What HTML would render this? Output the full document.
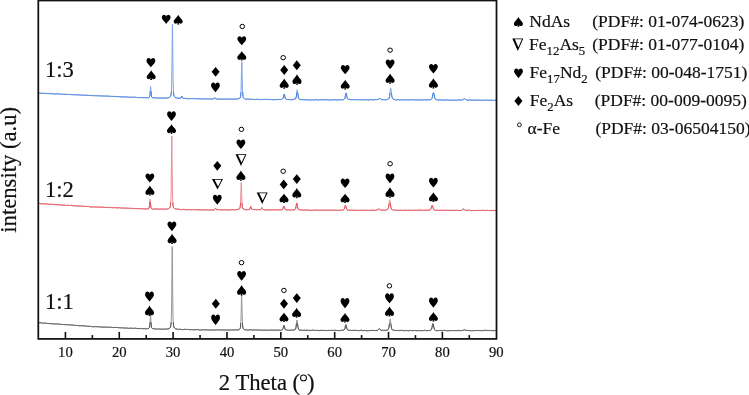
<!DOCTYPE html>
<html><head><meta charset="utf-8"><style>
html,body{margin:0;padding:0;background:#fff;}
svg{display:block;will-change:transform;}
text{font-family:"Liberation Serif",serif;fill:#111;stroke:#111;stroke-width:0.2px;}
</style></head><body>
<svg width="749" height="395" viewBox="0 0 749 395">
<rect width="749" height="395" fill="#fff"/>
<defs><clipPath id="cb0"><polygon points="36.0,86.1 40.0,86.2 44.0,86.4 48.0,86.6 52.0,86.7 56.0,86.9 60.0,87.1 64.0,87.3 68.0,87.5 72.0,87.6 76.0,87.8 80.0,88.0 84.0,88.2 88.0,88.4 92.0,88.6 96.0,88.7 100.0,88.9 104.0,89.1 108.0,89.2 112.0,89.4 116.0,89.6 120.0,89.7 124.0,89.9 128.0,90.1 132.0,90.2 136.0,90.4 140.0,90.6 144.0,90.7 148.0,90.9 152.0,91.0 156.0,91.0 160.0,91.1 164.0,91.2 168.0,91.3 172.0,91.3 176.0,91.4 180.0,91.5 184.0,91.6 188.0,91.6 192.0,91.7 196.0,91.8 200.0,91.8 204.0,91.9 208.0,91.9 212.0,92.0 216.0,92.0 220.0,92.1 224.0,92.1 228.0,92.1 232.0,92.2 236.0,92.2 240.0,92.2 244.0,92.3 248.0,92.3 252.0,92.3 256.0,92.4 260.0,92.4 264.0,92.5 268.0,92.5 272.0,92.5 276.0,92.6 280.0,92.6 284.0,92.6 288.0,92.7 292.0,92.7 296.0,92.7 300.0,92.8 304.0,92.8 308.0,92.9 312.0,92.9 316.0,92.9 320.0,92.9 324.0,92.9 328.0,92.9 332.0,92.9 336.0,92.9 340.0,92.9 344.0,92.8 348.0,92.8 352.0,92.8 356.0,92.8 360.0,92.8 364.0,92.8 368.0,92.8 372.0,92.8 376.0,92.8 380.0,92.8 384.0,92.8 388.0,92.9 392.0,92.9 396.0,92.9 400.0,92.9 404.0,92.9 408.0,92.9 412.0,92.9 416.0,92.9 420.0,93.0 424.0,93.0 428.0,93.0 432.0,93.0 436.0,93.0 440.0,93.0 444.0,93.1 448.0,93.1 452.0,93.1 456.0,93.1 460.0,93.1 464.0,93.1 468.0,93.2 472.0,93.2 476.0,93.2 480.0,93.2 484.0,93.2 488.0,93.3 492.0,93.3 496.0,93.3 496.0,103.3 492.0,103.3 488.0,103.3 484.0,103.2 480.0,103.2 476.0,103.2 472.0,103.2 468.0,103.2 464.0,103.1 460.0,103.1 456.0,103.1 452.0,103.1 448.0,103.1 444.0,103.1 440.0,103.0 436.0,103.0 432.0,103.0 428.0,103.0 424.0,103.0 420.0,103.0 416.0,102.9 412.0,102.9 408.0,102.9 404.0,102.9 400.0,102.9 396.0,102.9 392.0,102.9 388.0,102.9 384.0,102.8 380.0,102.8 376.0,102.8 372.0,102.8 368.0,102.8 364.0,102.8 360.0,102.8 356.0,102.8 352.0,102.8 348.0,102.8 344.0,102.8 340.0,102.9 336.0,102.9 332.0,102.9 328.0,102.9 324.0,102.9 320.0,102.9 316.0,102.9 312.0,102.9 308.0,102.9 304.0,102.8 300.0,102.8 296.0,102.7 292.0,102.7 288.0,102.7 284.0,102.6 280.0,102.6 276.0,102.6 272.0,102.5 268.0,102.5 264.0,102.5 260.0,102.4 256.0,102.4 252.0,102.3 248.0,102.3 244.0,102.3 240.0,102.2 236.0,102.2 232.0,102.2 228.0,102.1 224.0,102.1 220.0,102.1 216.0,102.0 212.0,102.0 208.0,101.9 204.0,101.9 200.0,101.8 196.0,101.8 192.0,101.7 188.0,101.6 184.0,101.6 180.0,101.5 176.0,101.4 172.0,101.3 168.0,101.3 164.0,101.2 160.0,101.1 156.0,101.0 152.0,101.0 148.0,100.9 144.0,100.7 140.0,100.6 136.0,100.4 132.0,100.2 128.0,100.1 124.0,99.9 120.0,99.7 116.0,99.6 112.0,99.4 108.0,99.2 104.0,99.1 100.0,98.9 96.0,98.7 92.0,98.6 88.0,98.4 84.0,98.2 80.0,98.0 76.0,97.8 72.0,97.6 68.0,97.5 64.0,97.3 60.0,97.1 56.0,96.9 52.0,96.7 48.0,96.6 44.0,96.4 40.0,96.2 36.0,96.1"/></clipPath><clipPath id="cb1"><polygon points="36.0,196.5 40.0,196.6 44.0,196.9 48.0,197.1 52.0,197.4 56.0,197.6 60.0,197.9 64.0,198.1 68.0,198.4 72.0,198.6 76.0,198.8 80.0,199.1 84.0,199.3 88.0,199.6 92.0,199.8 96.0,200.0 100.0,200.2 104.0,200.3 108.0,200.5 112.0,200.6 116.0,200.8 120.0,200.9 124.0,201.1 128.0,201.2 132.0,201.4 136.0,201.5 140.0,201.7 144.0,201.8 148.0,202.0 152.0,202.1 156.0,202.1 160.0,202.2 164.0,202.3 168.0,202.3 172.0,202.4 176.0,202.5 180.0,202.5 184.0,202.6 188.0,202.7 192.0,202.7 196.0,202.8 200.0,202.9 204.0,202.9 208.0,202.9 212.0,202.9 216.0,202.9 220.0,202.9 224.0,202.9 228.0,202.9 232.0,202.8 236.0,202.8 240.0,202.8 244.0,202.8 248.0,202.8 252.0,202.8 256.0,202.8 260.0,202.8 264.0,202.8 268.0,202.9 272.0,202.9 276.0,202.9 280.0,203.0 284.0,203.0 288.0,203.0 292.0,203.0 296.0,203.1 300.0,203.1 304.0,203.1 308.0,203.2 312.0,203.2 316.0,203.2 320.0,203.2 324.0,203.2 328.0,203.2 332.0,203.2 336.0,203.2 340.0,203.2 344.0,203.3 348.0,203.3 352.0,203.3 356.0,203.3 360.0,203.3 364.0,203.3 368.0,203.3 372.0,203.3 376.0,203.3 380.0,203.3 384.0,203.3 388.0,203.3 392.0,203.3 396.0,203.3 400.0,203.3 404.0,203.3 408.0,203.3 412.0,203.3 416.0,203.3 420.0,203.3 424.0,203.3 428.0,203.3 432.0,203.3 436.0,203.3 440.0,203.3 444.0,203.3 448.0,203.3 452.0,203.4 456.0,203.4 460.0,203.4 464.0,203.4 468.0,203.4 472.0,203.4 476.0,203.4 480.0,203.4 484.0,203.5 488.0,203.5 492.0,203.5 496.0,203.5 496.0,213.5 492.0,213.5 488.0,213.5 484.0,213.5 480.0,213.4 476.0,213.4 472.0,213.4 468.0,213.4 464.0,213.4 460.0,213.4 456.0,213.4 452.0,213.4 448.0,213.3 444.0,213.3 440.0,213.3 436.0,213.3 432.0,213.3 428.0,213.3 424.0,213.3 420.0,213.3 416.0,213.3 412.0,213.3 408.0,213.3 404.0,213.3 400.0,213.3 396.0,213.3 392.0,213.3 388.0,213.3 384.0,213.3 380.0,213.3 376.0,213.3 372.0,213.3 368.0,213.3 364.0,213.3 360.0,213.3 356.0,213.3 352.0,213.3 348.0,213.3 344.0,213.3 340.0,213.2 336.0,213.2 332.0,213.2 328.0,213.2 324.0,213.2 320.0,213.2 316.0,213.2 312.0,213.2 308.0,213.2 304.0,213.1 300.0,213.1 296.0,213.1 292.0,213.0 288.0,213.0 284.0,213.0 280.0,213.0 276.0,212.9 272.0,212.9 268.0,212.9 264.0,212.8 260.0,212.8 256.0,212.8 252.0,212.8 248.0,212.8 244.0,212.8 240.0,212.8 236.0,212.8 232.0,212.8 228.0,212.9 224.0,212.9 220.0,212.9 216.0,212.9 212.0,212.9 208.0,212.9 204.0,212.9 200.0,212.9 196.0,212.8 192.0,212.7 188.0,212.7 184.0,212.6 180.0,212.5 176.0,212.5 172.0,212.4 168.0,212.3 164.0,212.3 160.0,212.2 156.0,212.1 152.0,212.1 148.0,212.0 144.0,211.8 140.0,211.7 136.0,211.5 132.0,211.4 128.0,211.2 124.0,211.1 120.0,210.9 116.0,210.8 112.0,210.6 108.0,210.5 104.0,210.3 100.0,210.2 96.0,210.0 92.0,209.8 88.0,209.6 84.0,209.3 80.0,209.1 76.0,208.8 72.0,208.6 68.0,208.4 64.0,208.1 60.0,207.9 56.0,207.6 52.0,207.4 48.0,207.1 44.0,206.9 40.0,206.6 36.0,206.5"/></clipPath><clipPath id="cb2"><polygon points="36.0,315.7 40.0,315.8 44.0,316.1 48.0,316.4 52.0,316.7 56.0,317.0 60.0,317.3 64.0,317.5 68.0,317.8 72.0,318.1 76.0,318.4 80.0,318.7 84.0,319.0 88.0,319.2 92.0,319.5 96.0,319.7 100.0,319.9 104.0,320.1 108.0,320.2 112.0,320.4 116.0,320.6 120.0,320.7 124.0,320.9 128.0,321.1 132.0,321.2 136.0,321.4 140.0,321.6 144.0,321.7 148.0,321.9 152.0,322.0 156.0,322.0 160.0,322.1 164.0,322.2 168.0,322.3 172.0,322.3 176.0,322.4 180.0,322.5 184.0,322.6 188.0,322.6 192.0,322.7 196.0,322.8 200.0,322.8 204.0,322.9 208.0,322.9 212.0,322.9 216.0,322.9 220.0,323.0 224.0,323.0 228.0,323.0 232.0,323.0 236.0,323.0 240.0,323.0 244.0,323.0 248.0,323.1 252.0,323.1 256.0,323.1 260.0,323.1 264.0,323.1 268.0,323.2 272.0,323.2 276.0,323.2 280.0,323.2 284.0,323.2 288.0,323.3 292.0,323.3 296.0,323.3 300.0,323.3 304.0,323.4 308.0,323.4 312.0,323.4 316.0,323.4 320.0,323.4 324.0,323.4 328.0,323.4 332.0,323.4 336.0,323.4 340.0,323.4 344.0,323.5 348.0,323.5 352.0,323.5 356.0,323.5 360.0,323.5 364.0,323.5 368.0,323.5 372.0,323.5 376.0,323.5 380.0,323.5 384.0,323.5 388.0,323.6 392.0,323.6 396.0,323.6 400.0,323.6 404.0,323.6 408.0,323.6 412.0,323.6 416.0,323.6 420.0,323.7 424.0,323.7 428.0,323.7 432.0,323.7 436.0,323.7 440.0,323.7 444.0,323.7 448.0,323.7 452.0,323.6 456.0,323.6 460.0,323.6 464.0,323.6 468.0,323.6 472.0,323.6 476.0,323.6 480.0,323.6 484.0,323.5 488.0,323.5 492.0,323.5 496.0,323.5 496.0,333.5 492.0,333.5 488.0,333.5 484.0,333.5 480.0,333.6 476.0,333.6 472.0,333.6 468.0,333.6 464.0,333.6 460.0,333.6 456.0,333.6 452.0,333.6 448.0,333.7 444.0,333.7 440.0,333.7 436.0,333.7 432.0,333.7 428.0,333.7 424.0,333.7 420.0,333.7 416.0,333.6 412.0,333.6 408.0,333.6 404.0,333.6 400.0,333.6 396.0,333.6 392.0,333.6 388.0,333.6 384.0,333.5 380.0,333.5 376.0,333.5 372.0,333.5 368.0,333.5 364.0,333.5 360.0,333.5 356.0,333.5 352.0,333.5 348.0,333.5 344.0,333.5 340.0,333.4 336.0,333.4 332.0,333.4 328.0,333.4 324.0,333.4 320.0,333.4 316.0,333.4 312.0,333.4 308.0,333.4 304.0,333.4 300.0,333.3 296.0,333.3 292.0,333.3 288.0,333.3 284.0,333.2 280.0,333.2 276.0,333.2 272.0,333.2 268.0,333.2 264.0,333.1 260.0,333.1 256.0,333.1 252.0,333.1 248.0,333.1 244.0,333.0 240.0,333.0 236.0,333.0 232.0,333.0 228.0,333.0 224.0,333.0 220.0,333.0 216.0,332.9 212.0,332.9 208.0,332.9 204.0,332.9 200.0,332.8 196.0,332.8 192.0,332.7 188.0,332.6 184.0,332.6 180.0,332.5 176.0,332.4 172.0,332.3 168.0,332.3 164.0,332.2 160.0,332.1 156.0,332.0 152.0,332.0 148.0,331.9 144.0,331.7 140.0,331.6 136.0,331.4 132.0,331.2 128.0,331.1 124.0,330.9 120.0,330.7 116.0,330.6 112.0,330.4 108.0,330.2 104.0,330.1 100.0,329.9 96.0,329.7 92.0,329.5 88.0,329.2 84.0,329.0 80.0,328.7 76.0,328.4 72.0,328.1 68.0,327.8 64.0,327.5 60.0,327.3 56.0,327.0 52.0,326.7 48.0,326.4 44.0,326.1 40.0,325.8 36.0,325.7"/></clipPath></defs>
<polyline points="38.5,93.18 39.0,93.24 39.5,93.17 40.0,93.14 40.5,93.25 41.0,93.29 41.5,93.26 42.0,93.32 42.5,93.37 43.0,93.37 43.5,93.39 44.0,93.39 44.5,93.35 45.0,93.36 45.5,93.42 46.0,93.49 46.5,93.50 47.0,93.46 47.5,93.45 48.0,93.50 48.5,93.56 49.0,93.63 49.5,93.75 50.0,93.67 50.5,93.42 51.0,93.42 51.5,93.61 52.0,93.70 52.5,93.77 53.0,93.89 53.5,93.94 54.0,93.81 54.5,93.86 55.0,94.05 55.5,94.05 56.0,93.98 56.5,93.86 57.0,93.82 57.5,93.94 58.0,93.97 58.5,93.91 59.0,93.95 59.5,94.01 60.0,94.02 60.5,94.08 61.0,94.15 61.5,94.15 62.0,94.17 62.5,94.28 63.0,94.34 63.5,94.29 64.0,94.26 64.5,94.31 65.0,94.35 65.5,94.36 66.0,94.36 66.5,94.42 67.0,94.40 67.5,94.33 68.0,94.39 68.5,94.49 69.0,94.49 69.5,94.42 70.0,94.43 70.5,94.53 71.0,94.58 71.5,94.65 72.0,94.65 72.5,94.58 73.0,94.69 73.5,94.81 74.0,94.73 74.5,94.71 75.0,94.82 75.5,94.89 76.0,94.89 76.5,94.80 77.0,94.73 77.5,94.81 78.0,94.91 78.5,94.99 79.0,94.94 79.5,94.81 80.0,94.88 80.5,95.08 81.0,95.12 81.5,95.05 82.0,95.09 82.5,95.18 83.0,95.23 83.5,95.27 84.0,95.24 84.5,95.20 85.0,95.25 85.5,95.24 86.0,95.14 86.5,95.20 87.0,95.27 87.5,95.25 88.0,95.31 88.5,95.39 89.0,95.45 89.5,95.49 90.0,95.56 90.5,95.62 91.0,95.55 91.5,95.41 92.0,95.47 92.5,95.65 93.0,95.63 93.5,95.57 94.0,95.62 94.5,95.69 95.0,95.74 95.5,95.74 96.0,95.70 96.5,95.71 97.0,95.73 97.5,95.75 98.0,95.88 98.5,95.92 99.0,95.69 99.5,95.64 100.0,95.94 100.5,96.10 101.0,95.90 101.5,95.84 102.0,95.94 102.5,95.93 103.0,95.93 103.5,96.01 104.0,96.07 104.5,96.08 105.0,96.10 105.5,96.08 106.0,96.05 106.5,96.06 107.0,96.09 107.5,96.12 108.0,96.09 108.5,96.17 109.0,96.34 109.5,96.34 110.0,96.32 110.5,96.35 111.0,96.33 111.5,96.35 112.0,96.43 112.5,96.41 113.0,96.38 113.5,96.45 114.0,96.42 114.5,96.35 115.0,96.39 115.5,96.54 116.0,96.63 116.5,96.56 117.0,96.48 117.5,96.46 118.0,96.59 118.5,96.72 119.0,96.67 119.5,96.65 120.0,96.75 120.5,96.84 121.0,96.93 121.5,96.98 122.0,96.88 122.5,96.78 123.0,96.81 123.5,96.86 124.0,96.90 124.5,96.92 125.0,96.88 125.5,96.86 126.0,96.95 126.5,96.94 127.0,96.92 127.5,97.09 128.0,97.21 128.5,97.18 129.0,97.09 129.5,97.17 130.0,97.37 130.5,97.30 131.0,97.09 131.5,97.10 132.0,97.14 132.5,97.13 133.0,97.20 133.5,97.30 134.0,97.42 134.5,97.34 135.0,97.17 135.5,97.20 136.0,97.30 136.5,97.44 137.0,97.51 137.5,97.46 138.0,97.48 138.5,97.67 139.0,97.70 139.5,97.54 140.0,97.51 140.5,97.53 141.0,97.51 141.5,97.58 142.0,97.69 142.5,97.63 143.0,97.62 143.5,97.68 144.0,97.66 144.5,97.65 145.0,97.67 145.5,97.66 146.0,97.64 146.5,97.67 147.0,97.71 147.5,97.72 148.0,97.70 148.5,97.66 149.0,97.53 149.5,97.05 150.0,94.58 150.4,89.13 150.5,87.13 150.6,86.48 150.9,89.17 151.0,91.42 151.5,96.38 152.0,97.42 152.5,97.68 153.0,97.68 153.5,97.68 154.0,97.85 154.5,97.90 155.0,97.87 155.5,97.94 156.0,97.91 156.5,97.88 157.0,97.96 157.5,98.01 158.0,97.97 158.5,97.99 159.0,98.10 159.5,98.02 160.0,97.94 160.5,98.04 161.0,98.08 161.5,98.08 162.0,98.07 162.5,98.08 163.0,98.08 163.5,98.07 164.0,98.09 164.5,98.04 165.0,98.00 165.5,98.06 166.0,98.09 166.5,98.01 167.0,97.96 167.5,97.92 168.0,97.76 168.5,97.69 169.0,97.62 169.5,97.42 170.0,97.14 170.5,96.62 171.0,95.31 171.5,90.87 172.0,63.51 172.2,43.31 172.4,24.33 172.5,26.66 172.7,43.47 173.0,76.70 173.5,93.12 174.0,95.81 174.5,96.77 175.0,97.42 175.5,97.77 176.0,97.87 176.5,97.99 177.0,98.09 177.5,98.12 178.0,98.21 178.5,98.25 179.0,98.16 179.5,98.13 180.0,98.15 180.5,98.15 181.0,97.82 181.5,96.48 181.5,96.44 181.7,95.97 182.0,96.41 182.0,96.41 182.5,97.95 183.0,98.44 183.5,98.41 184.0,98.37 184.5,98.42 185.0,98.42 185.5,98.45 186.0,98.51 186.5,98.59 187.0,98.67 187.5,98.65 188.0,98.65 188.5,98.68 189.0,98.68 189.5,98.70 190.0,98.61 190.5,98.54 191.0,98.59 191.5,98.59 192.0,98.56 192.5,98.56 193.0,98.62 193.5,98.75 194.0,98.74 194.5,98.64 195.0,98.62 195.5,98.67 196.0,98.68 196.5,98.64 197.0,98.65 197.5,98.71 198.0,98.78 198.5,98.90 199.0,98.94 199.5,98.89 200.0,98.82 200.5,98.78 201.0,98.85 201.5,98.90 202.0,98.97 202.5,98.93 203.0,98.78 203.5,98.78 204.0,98.84 204.5,98.85 205.0,98.80 205.5,98.82 206.0,98.93 206.5,98.98 207.0,98.92 207.5,98.84 208.0,98.89 208.5,98.98 209.0,98.90 209.5,98.84 210.0,98.96 210.5,99.05 211.0,99.02 211.5,98.98 212.0,98.95 212.5,98.90 213.0,98.88 213.5,98.81 214.0,98.44 214.3,97.89 214.5,97.60 214.6,97.56 214.8,97.87 215.0,98.21 215.5,98.77 216.0,98.85 216.5,98.97 217.0,99.14 217.5,99.13 218.0,98.93 218.5,98.96 219.0,99.05 219.5,98.92 220.0,98.90 220.5,99.07 221.0,99.12 221.5,99.06 222.0,99.07 222.5,99.15 223.0,99.19 223.5,99.17 224.0,99.11 224.5,99.03 225.0,99.02 225.5,99.11 226.0,99.20 226.5,99.15 227.0,99.08 227.5,99.15 228.0,99.18 228.5,99.11 229.0,99.07 229.5,99.01 230.0,98.97 230.5,99.07 231.0,99.10 231.5,99.08 232.0,99.08 232.5,99.01 233.0,98.99 233.5,99.13 234.0,99.18 234.5,99.08 235.0,99.11 235.5,99.20 236.0,99.18 236.5,99.12 237.0,98.89 237.5,98.79 238.0,98.84 238.5,98.75 239.0,98.56 239.5,98.37 240.0,98.03 240.5,96.92 241.0,91.81 241.5,71.50 241.5,69.70 241.8,61.79 242.0,67.96 242.0,69.70 242.5,90.25 243.0,96.61 243.5,97.92 244.0,98.47 244.5,98.71 245.0,98.88 245.5,99.08 246.0,99.16 246.5,99.19 247.0,99.26 247.5,99.24 248.0,99.16 248.5,99.18 249.0,99.25 249.5,99.23 250.0,99.13 250.5,99.11 251.0,99.16 251.5,99.26 252.0,99.41 252.5,99.50 253.0,99.45 253.5,99.37 254.0,99.31 254.5,99.36 255.0,99.50 255.5,99.59 256.0,99.50 256.5,99.38 257.0,99.34 257.5,99.30 258.0,99.29 258.5,99.34 259.0,99.47 259.5,99.55 260.0,99.53 260.5,99.59 261.0,99.61 261.5,99.56 262.0,99.58 262.5,99.53 263.0,99.43 263.5,99.44 264.0,99.44 264.5,99.42 265.0,99.43 265.5,99.47 266.0,99.46 266.5,99.41 267.0,99.37 267.5,99.36 268.0,99.46 268.5,99.55 269.0,99.53 269.5,99.54 270.0,99.52 270.5,99.46 271.0,99.47 271.5,99.57 272.0,99.62 272.5,99.68 273.0,99.73 273.5,99.65 274.0,99.65 274.5,99.66 275.0,99.53 275.5,99.41 276.0,99.41 276.5,99.54 277.0,99.64 277.5,99.60 278.0,99.54 278.5,99.53 279.0,99.47 279.5,99.38 280.0,99.44 280.5,99.44 281.0,99.43 281.5,99.47 282.0,99.25 282.5,98.93 283.0,98.43 283.5,96.88 284.0,94.54 284.0,94.46 284.2,94.06 284.5,94.54 284.5,94.57 285.0,97.14 285.5,98.72 286.0,99.12 286.5,99.24 287.0,99.43 287.5,99.57 288.0,99.62 288.5,99.58 289.0,99.55 289.5,99.64 290.0,99.61 290.5,99.55 291.0,99.74 291.5,99.80 292.0,99.61 292.5,99.60 293.0,99.60 293.5,99.37 294.0,99.19 294.5,99.16 295.0,99.10 295.5,98.84 296.0,97.91 296.5,95.02 297.0,90.45 297.0,90.58 297.2,89.71 297.5,90.73 297.5,90.65 298.0,95.13 298.5,97.95 299.0,98.92 299.5,99.28 300.0,99.50 300.5,99.63 301.0,99.63 301.5,99.57 302.0,99.69 302.5,99.76 303.0,99.65 303.5,99.62 304.0,99.61 304.5,99.65 305.0,99.84 305.5,99.96 306.0,99.92 306.5,99.85 307.0,99.82 307.5,99.80 308.0,99.81 308.5,99.91 309.0,99.99 309.5,99.94 310.0,99.85 310.5,99.83 311.0,99.92 311.5,100.01 312.0,99.88 312.5,99.75 313.0,99.91 313.5,100.08 314.0,100.05 314.5,99.98 315.0,99.84 315.5,99.65 316.0,99.61 316.5,99.70 317.0,99.83 317.5,99.93 318.0,99.93 318.5,99.92 319.0,99.93 319.5,99.86 320.0,99.84 320.5,99.88 321.0,99.73 321.5,99.58 322.0,99.68 322.5,99.71 323.0,99.61 323.5,99.70 324.0,99.77 324.5,99.68 325.0,99.67 325.5,99.75 326.0,99.85 326.5,99.96 327.0,99.88 327.5,99.72 328.0,99.76 328.5,99.96 329.0,100.05 329.5,99.98 330.0,99.97 330.5,100.01 331.0,99.91 331.5,99.77 332.0,99.70 332.5,99.84 333.0,99.94 333.5,99.82 334.0,99.73 334.5,99.73 335.0,99.83 335.5,99.90 336.0,99.88 336.5,99.91 337.0,99.93 337.5,99.95 338.0,100.00 338.5,99.93 339.0,99.78 339.5,99.70 340.0,99.71 340.5,99.77 341.0,99.86 341.5,100.02 342.0,99.96 342.5,99.72 343.0,99.66 343.5,99.59 344.0,99.28 344.5,98.92 345.0,97.89 345.5,95.38 345.8,93.41 346.0,92.96 346.1,92.94 346.3,93.55 346.5,94.40 347.0,97.20 347.5,98.78 348.0,99.34 348.5,99.42 349.0,99.37 349.5,99.39 350.0,99.47 350.5,99.65 351.0,99.80 351.5,99.78 352.0,99.68 352.5,99.64 353.0,99.67 353.5,99.70 354.0,99.67 354.5,99.63 355.0,99.74 355.5,99.77 356.0,99.65 356.5,99.60 357.0,99.62 357.5,99.70 358.0,99.66 358.5,99.60 359.0,99.79 359.5,99.95 360.0,99.92 360.5,99.89 361.0,99.75 361.5,99.64 362.0,99.73 362.5,99.72 363.0,99.69 363.5,99.81 364.0,99.82 364.5,99.79 365.0,99.80 365.5,99.78 366.0,99.77 366.5,99.76 367.0,99.74 367.5,99.78 368.0,99.87 368.5,99.92 369.0,99.88 369.5,99.76 370.0,99.75 370.5,99.72 371.0,99.56 371.5,99.63 372.0,99.84 372.5,99.90 373.0,99.87 373.5,99.82 374.0,99.79 374.5,99.69 375.0,99.57 375.5,99.56 376.0,99.63 376.5,99.66 377.0,99.53 377.5,99.32 378.0,99.33 378.5,99.40 379.0,99.12 379.5,98.48 379.7,98.19 379.9,98.12 380.0,98.30 380.2,98.44 380.5,98.92 381.0,99.50 381.5,99.63 382.0,99.64 382.5,99.64 383.0,99.64 383.5,99.70 384.0,99.75 384.5,99.79 385.0,99.86 385.5,99.84 386.0,99.73 386.5,99.64 387.0,99.49 387.5,99.32 388.0,99.18 388.5,98.96 389.0,98.44 389.5,96.72 390.0,92.90 390.4,88.96 390.5,88.47 390.7,87.91 390.9,88.81 391.0,89.44 391.5,94.04 392.0,97.20 392.5,98.57 393.0,99.02 393.5,99.27 394.0,99.43 394.5,99.48 395.0,99.59 395.5,99.76 396.0,99.86 396.5,99.88 397.0,99.78 397.5,99.68 398.0,99.68 398.5,99.73 399.0,99.86 399.5,99.96 400.0,99.89 400.5,99.80 401.0,99.81 401.5,99.80 402.0,99.76 402.5,99.83 403.0,99.87 403.5,99.82 404.0,99.83 404.5,99.85 405.0,99.79 405.5,99.82 406.0,99.93 406.5,100.01 407.0,100.00 407.5,99.81 408.0,99.75 408.5,99.94 409.0,99.99 409.5,99.82 410.0,99.76 410.5,99.78 411.0,99.75 411.5,99.73 412.0,99.71 412.5,99.72 413.0,99.73 413.5,99.87 414.0,100.02 414.5,99.99 415.0,99.95 415.5,99.87 416.0,99.77 416.5,99.81 417.0,99.95 417.5,100.03 418.0,100.01 418.5,99.89 419.0,99.87 419.5,99.98 420.0,100.12 420.5,100.11 421.0,99.90 421.5,99.74 422.0,99.80 422.5,99.96 423.0,99.95 423.5,99.87 424.0,99.79 424.5,99.65 425.0,99.72 425.5,99.94 426.0,99.98 426.5,99.89 427.0,99.84 427.5,99.96 428.0,99.99 428.5,99.82 429.0,99.76 429.5,99.77 430.0,99.74 430.5,99.66 431.0,99.46 431.5,99.14 432.0,98.41 432.5,96.67 433.0,93.90 433.2,92.73 433.5,92.21 433.5,92.15 433.7,92.72 434.0,94.13 434.5,96.85 435.0,98.53 435.5,99.32 436.0,99.60 436.5,99.70 437.0,99.73 437.5,99.75 438.0,99.90 438.5,100.04 439.0,99.95 439.5,99.84 440.0,99.87 440.5,99.89 441.0,99.92 441.5,99.93 442.0,99.95 442.5,100.05 443.0,100.08 443.5,100.09 444.0,100.15 444.5,100.20 445.0,100.11 445.5,99.96 446.0,99.89 446.5,99.85 447.0,99.94 447.5,100.12 448.0,100.20 448.5,100.17 449.0,100.08 449.5,100.07 450.0,100.13 450.5,100.23 451.0,100.22 451.5,100.25 452.0,100.35 452.5,100.21 453.0,100.07 453.5,100.14 454.0,100.18 454.5,100.13 455.0,100.11 455.5,100.17 456.0,100.21 456.5,100.26 457.0,100.21 457.5,100.00 458.0,99.91 458.5,99.97 459.0,100.06 459.5,100.10 460.0,100.06 460.5,100.02 461.0,100.10 461.5,100.10 462.0,99.91 462.5,99.80 463.0,99.64 463.5,99.25 464.0,98.85 464.2,98.85 464.5,98.80 464.5,98.68 464.7,98.73 465.0,99.05 465.5,99.44 466.0,99.66 466.5,99.84 467.0,100.04 467.5,100.22 468.0,100.19 468.5,100.03 469.0,99.98 469.5,100.06 470.0,100.04 470.5,100.04 471.0,100.12 471.5,100.14 472.0,100.24 472.5,100.22 473.0,100.07 473.5,100.03 474.0,100.04 474.5,100.15 475.0,100.20 475.5,100.19 476.0,100.27 476.5,100.19 477.0,100.08 477.5,100.17 478.0,100.20 478.5,100.12 479.0,100.10 479.5,100.15 480.0,100.26 480.5,100.26 481.0,100.23 481.5,100.23 482.0,100.14 482.5,100.21 483.0,100.35 483.5,100.35 484.0,100.34 484.5,100.28 485.0,100.18 485.5,100.19 486.0,100.22 486.5,100.18 487.0,100.13 487.5,100.09 488.0,100.11 488.5,100.22 489.0,100.32 489.5,100.26 490.0,100.18 490.5,100.25 491.0,100.24 491.5,100.16 492.0,100.25 492.5,100.36 493.0,100.38 493.5,100.39 494.0,100.42 494.5,100.39 495.0,100.23 495.5,100.09 496.0,100.16 496.5,100.29" fill="none" stroke="#7ba5e8" stroke-width="1" stroke-linejoin="round"/><polyline points="38.5,93.18 39.0,93.24 39.5,93.17 40.0,93.14 40.5,93.25 41.0,93.29 41.5,93.26 42.0,93.32 42.5,93.37 43.0,93.37 43.5,93.39 44.0,93.39 44.5,93.35 45.0,93.36 45.5,93.42 46.0,93.49 46.5,93.50 47.0,93.46 47.5,93.45 48.0,93.50 48.5,93.56 49.0,93.63 49.5,93.75 50.0,93.67 50.5,93.42 51.0,93.42 51.5,93.61 52.0,93.70 52.5,93.77 53.0,93.89 53.5,93.94 54.0,93.81 54.5,93.86 55.0,94.05 55.5,94.05 56.0,93.98 56.5,93.86 57.0,93.82 57.5,93.94 58.0,93.97 58.5,93.91 59.0,93.95 59.5,94.01 60.0,94.02 60.5,94.08 61.0,94.15 61.5,94.15 62.0,94.17 62.5,94.28 63.0,94.34 63.5,94.29 64.0,94.26 64.5,94.31 65.0,94.35 65.5,94.36 66.0,94.36 66.5,94.42 67.0,94.40 67.5,94.33 68.0,94.39 68.5,94.49 69.0,94.49 69.5,94.42 70.0,94.43 70.5,94.53 71.0,94.58 71.5,94.65 72.0,94.65 72.5,94.58 73.0,94.69 73.5,94.81 74.0,94.73 74.5,94.71 75.0,94.82 75.5,94.89 76.0,94.89 76.5,94.80 77.0,94.73 77.5,94.81 78.0,94.91 78.5,94.99 79.0,94.94 79.5,94.81 80.0,94.88 80.5,95.08 81.0,95.12 81.5,95.05 82.0,95.09 82.5,95.18 83.0,95.23 83.5,95.27 84.0,95.24 84.5,95.20 85.0,95.25 85.5,95.24 86.0,95.14 86.5,95.20 87.0,95.27 87.5,95.25 88.0,95.31 88.5,95.39 89.0,95.45 89.5,95.49 90.0,95.56 90.5,95.62 91.0,95.55 91.5,95.41 92.0,95.47 92.5,95.65 93.0,95.63 93.5,95.57 94.0,95.62 94.5,95.69 95.0,95.74 95.5,95.74 96.0,95.70 96.5,95.71 97.0,95.73 97.5,95.75 98.0,95.88 98.5,95.92 99.0,95.69 99.5,95.64 100.0,95.94 100.5,96.10 101.0,95.90 101.5,95.84 102.0,95.94 102.5,95.93 103.0,95.93 103.5,96.01 104.0,96.07 104.5,96.08 105.0,96.10 105.5,96.08 106.0,96.05 106.5,96.06 107.0,96.09 107.5,96.12 108.0,96.09 108.5,96.17 109.0,96.34 109.5,96.34 110.0,96.32 110.5,96.35 111.0,96.33 111.5,96.35 112.0,96.43 112.5,96.41 113.0,96.38 113.5,96.45 114.0,96.42 114.5,96.35 115.0,96.39 115.5,96.54 116.0,96.63 116.5,96.56 117.0,96.48 117.5,96.46 118.0,96.59 118.5,96.72 119.0,96.67 119.5,96.65 120.0,96.75 120.5,96.84 121.0,96.93 121.5,96.98 122.0,96.88 122.5,96.78 123.0,96.81 123.5,96.86 124.0,96.90 124.5,96.92 125.0,96.88 125.5,96.86 126.0,96.95 126.5,96.94 127.0,96.92 127.5,97.09 128.0,97.21 128.5,97.18 129.0,97.09 129.5,97.17 130.0,97.37 130.5,97.30 131.0,97.09 131.5,97.10 132.0,97.14 132.5,97.13 133.0,97.20 133.5,97.30 134.0,97.42 134.5,97.34 135.0,97.17 135.5,97.20 136.0,97.30 136.5,97.44 137.0,97.51 137.5,97.46 138.0,97.48 138.5,97.67 139.0,97.70 139.5,97.54 140.0,97.51 140.5,97.53 141.0,97.51 141.5,97.58 142.0,97.69 142.5,97.63 143.0,97.62 143.5,97.68 144.0,97.66 144.5,97.65 145.0,97.67 145.5,97.66 146.0,97.64 146.5,97.67 147.0,97.71 147.5,97.72 148.0,97.70 148.5,97.66 149.0,97.53 149.5,97.05 150.0,94.58 150.4,89.13 150.5,87.13 150.6,86.48 150.9,89.17 151.0,91.42 151.5,96.38 152.0,97.42 152.5,97.68 153.0,97.68 153.5,97.68 154.0,97.85 154.5,97.90 155.0,97.87 155.5,97.94 156.0,97.91 156.5,97.88 157.0,97.96 157.5,98.01 158.0,97.97 158.5,97.99 159.0,98.10 159.5,98.02 160.0,97.94 160.5,98.04 161.0,98.08 161.5,98.08 162.0,98.07 162.5,98.08 163.0,98.08 163.5,98.07 164.0,98.09 164.5,98.04 165.0,98.00 165.5,98.06 166.0,98.09 166.5,98.01 167.0,97.96 167.5,97.92 168.0,97.76 168.5,97.69 169.0,97.62 169.5,97.42 170.0,97.14 170.5,96.62 171.0,95.31 171.5,90.87 172.0,63.51 172.2,43.31 172.4,24.33 172.5,26.66 172.7,43.47 173.0,76.70 173.5,93.12 174.0,95.81 174.5,96.77 175.0,97.42 175.5,97.77 176.0,97.87 176.5,97.99 177.0,98.09 177.5,98.12 178.0,98.21 178.5,98.25 179.0,98.16 179.5,98.13 180.0,98.15 180.5,98.15 181.0,97.82 181.5,96.48 181.5,96.44 181.7,95.97 182.0,96.41 182.0,96.41 182.5,97.95 183.0,98.44 183.5,98.41 184.0,98.37 184.5,98.42 185.0,98.42 185.5,98.45 186.0,98.51 186.5,98.59 187.0,98.67 187.5,98.65 188.0,98.65 188.5,98.68 189.0,98.68 189.5,98.70 190.0,98.61 190.5,98.54 191.0,98.59 191.5,98.59 192.0,98.56 192.5,98.56 193.0,98.62 193.5,98.75 194.0,98.74 194.5,98.64 195.0,98.62 195.5,98.67 196.0,98.68 196.5,98.64 197.0,98.65 197.5,98.71 198.0,98.78 198.5,98.90 199.0,98.94 199.5,98.89 200.0,98.82 200.5,98.78 201.0,98.85 201.5,98.90 202.0,98.97 202.5,98.93 203.0,98.78 203.5,98.78 204.0,98.84 204.5,98.85 205.0,98.80 205.5,98.82 206.0,98.93 206.5,98.98 207.0,98.92 207.5,98.84 208.0,98.89 208.5,98.98 209.0,98.90 209.5,98.84 210.0,98.96 210.5,99.05 211.0,99.02 211.5,98.98 212.0,98.95 212.5,98.90 213.0,98.88 213.5,98.81 214.0,98.44 214.3,97.89 214.5,97.60 214.6,97.56 214.8,97.87 215.0,98.21 215.5,98.77 216.0,98.85 216.5,98.97 217.0,99.14 217.5,99.13 218.0,98.93 218.5,98.96 219.0,99.05 219.5,98.92 220.0,98.90 220.5,99.07 221.0,99.12 221.5,99.06 222.0,99.07 222.5,99.15 223.0,99.19 223.5,99.17 224.0,99.11 224.5,99.03 225.0,99.02 225.5,99.11 226.0,99.20 226.5,99.15 227.0,99.08 227.5,99.15 228.0,99.18 228.5,99.11 229.0,99.07 229.5,99.01 230.0,98.97 230.5,99.07 231.0,99.10 231.5,99.08 232.0,99.08 232.5,99.01 233.0,98.99 233.5,99.13 234.0,99.18 234.5,99.08 235.0,99.11 235.5,99.20 236.0,99.18 236.5,99.12 237.0,98.89 237.5,98.79 238.0,98.84 238.5,98.75 239.0,98.56 239.5,98.37 240.0,98.03 240.5,96.92 241.0,91.81 241.5,71.50 241.5,69.70 241.8,61.79 242.0,67.96 242.0,69.70 242.5,90.25 243.0,96.61 243.5,97.92 244.0,98.47 244.5,98.71 245.0,98.88 245.5,99.08 246.0,99.16 246.5,99.19 247.0,99.26 247.5,99.24 248.0,99.16 248.5,99.18 249.0,99.25 249.5,99.23 250.0,99.13 250.5,99.11 251.0,99.16 251.5,99.26 252.0,99.41 252.5,99.50 253.0,99.45 253.5,99.37 254.0,99.31 254.5,99.36 255.0,99.50 255.5,99.59 256.0,99.50 256.5,99.38 257.0,99.34 257.5,99.30 258.0,99.29 258.5,99.34 259.0,99.47 259.5,99.55 260.0,99.53 260.5,99.59 261.0,99.61 261.5,99.56 262.0,99.58 262.5,99.53 263.0,99.43 263.5,99.44 264.0,99.44 264.5,99.42 265.0,99.43 265.5,99.47 266.0,99.46 266.5,99.41 267.0,99.37 267.5,99.36 268.0,99.46 268.5,99.55 269.0,99.53 269.5,99.54 270.0,99.52 270.5,99.46 271.0,99.47 271.5,99.57 272.0,99.62 272.5,99.68 273.0,99.73 273.5,99.65 274.0,99.65 274.5,99.66 275.0,99.53 275.5,99.41 276.0,99.41 276.5,99.54 277.0,99.64 277.5,99.60 278.0,99.54 278.5,99.53 279.0,99.47 279.5,99.38 280.0,99.44 280.5,99.44 281.0,99.43 281.5,99.47 282.0,99.25 282.5,98.93 283.0,98.43 283.5,96.88 284.0,94.54 284.0,94.46 284.2,94.06 284.5,94.54 284.5,94.57 285.0,97.14 285.5,98.72 286.0,99.12 286.5,99.24 287.0,99.43 287.5,99.57 288.0,99.62 288.5,99.58 289.0,99.55 289.5,99.64 290.0,99.61 290.5,99.55 291.0,99.74 291.5,99.80 292.0,99.61 292.5,99.60 293.0,99.60 293.5,99.37 294.0,99.19 294.5,99.16 295.0,99.10 295.5,98.84 296.0,97.91 296.5,95.02 297.0,90.45 297.0,90.58 297.2,89.71 297.5,90.73 297.5,90.65 298.0,95.13 298.5,97.95 299.0,98.92 299.5,99.28 300.0,99.50 300.5,99.63 301.0,99.63 301.5,99.57 302.0,99.69 302.5,99.76 303.0,99.65 303.5,99.62 304.0,99.61 304.5,99.65 305.0,99.84 305.5,99.96 306.0,99.92 306.5,99.85 307.0,99.82 307.5,99.80 308.0,99.81 308.5,99.91 309.0,99.99 309.5,99.94 310.0,99.85 310.5,99.83 311.0,99.92 311.5,100.01 312.0,99.88 312.5,99.75 313.0,99.91 313.5,100.08 314.0,100.05 314.5,99.98 315.0,99.84 315.5,99.65 316.0,99.61 316.5,99.70 317.0,99.83 317.5,99.93 318.0,99.93 318.5,99.92 319.0,99.93 319.5,99.86 320.0,99.84 320.5,99.88 321.0,99.73 321.5,99.58 322.0,99.68 322.5,99.71 323.0,99.61 323.5,99.70 324.0,99.77 324.5,99.68 325.0,99.67 325.5,99.75 326.0,99.85 326.5,99.96 327.0,99.88 327.5,99.72 328.0,99.76 328.5,99.96 329.0,100.05 329.5,99.98 330.0,99.97 330.5,100.01 331.0,99.91 331.5,99.77 332.0,99.70 332.5,99.84 333.0,99.94 333.5,99.82 334.0,99.73 334.5,99.73 335.0,99.83 335.5,99.90 336.0,99.88 336.5,99.91 337.0,99.93 337.5,99.95 338.0,100.00 338.5,99.93 339.0,99.78 339.5,99.70 340.0,99.71 340.5,99.77 341.0,99.86 341.5,100.02 342.0,99.96 342.5,99.72 343.0,99.66 343.5,99.59 344.0,99.28 344.5,98.92 345.0,97.89 345.5,95.38 345.8,93.41 346.0,92.96 346.1,92.94 346.3,93.55 346.5,94.40 347.0,97.20 347.5,98.78 348.0,99.34 348.5,99.42 349.0,99.37 349.5,99.39 350.0,99.47 350.5,99.65 351.0,99.80 351.5,99.78 352.0,99.68 352.5,99.64 353.0,99.67 353.5,99.70 354.0,99.67 354.5,99.63 355.0,99.74 355.5,99.77 356.0,99.65 356.5,99.60 357.0,99.62 357.5,99.70 358.0,99.66 358.5,99.60 359.0,99.79 359.5,99.95 360.0,99.92 360.5,99.89 361.0,99.75 361.5,99.64 362.0,99.73 362.5,99.72 363.0,99.69 363.5,99.81 364.0,99.82 364.5,99.79 365.0,99.80 365.5,99.78 366.0,99.77 366.5,99.76 367.0,99.74 367.5,99.78 368.0,99.87 368.5,99.92 369.0,99.88 369.5,99.76 370.0,99.75 370.5,99.72 371.0,99.56 371.5,99.63 372.0,99.84 372.5,99.90 373.0,99.87 373.5,99.82 374.0,99.79 374.5,99.69 375.0,99.57 375.5,99.56 376.0,99.63 376.5,99.66 377.0,99.53 377.5,99.32 378.0,99.33 378.5,99.40 379.0,99.12 379.5,98.48 379.7,98.19 379.9,98.12 380.0,98.30 380.2,98.44 380.5,98.92 381.0,99.50 381.5,99.63 382.0,99.64 382.5,99.64 383.0,99.64 383.5,99.70 384.0,99.75 384.5,99.79 385.0,99.86 385.5,99.84 386.0,99.73 386.5,99.64 387.0,99.49 387.5,99.32 388.0,99.18 388.5,98.96 389.0,98.44 389.5,96.72 390.0,92.90 390.4,88.96 390.5,88.47 390.7,87.91 390.9,88.81 391.0,89.44 391.5,94.04 392.0,97.20 392.5,98.57 393.0,99.02 393.5,99.27 394.0,99.43 394.5,99.48 395.0,99.59 395.5,99.76 396.0,99.86 396.5,99.88 397.0,99.78 397.5,99.68 398.0,99.68 398.5,99.73 399.0,99.86 399.5,99.96 400.0,99.89 400.5,99.80 401.0,99.81 401.5,99.80 402.0,99.76 402.5,99.83 403.0,99.87 403.5,99.82 404.0,99.83 404.5,99.85 405.0,99.79 405.5,99.82 406.0,99.93 406.5,100.01 407.0,100.00 407.5,99.81 408.0,99.75 408.5,99.94 409.0,99.99 409.5,99.82 410.0,99.76 410.5,99.78 411.0,99.75 411.5,99.73 412.0,99.71 412.5,99.72 413.0,99.73 413.5,99.87 414.0,100.02 414.5,99.99 415.0,99.95 415.5,99.87 416.0,99.77 416.5,99.81 417.0,99.95 417.5,100.03 418.0,100.01 418.5,99.89 419.0,99.87 419.5,99.98 420.0,100.12 420.5,100.11 421.0,99.90 421.5,99.74 422.0,99.80 422.5,99.96 423.0,99.95 423.5,99.87 424.0,99.79 424.5,99.65 425.0,99.72 425.5,99.94 426.0,99.98 426.5,99.89 427.0,99.84 427.5,99.96 428.0,99.99 428.5,99.82 429.0,99.76 429.5,99.77 430.0,99.74 430.5,99.66 431.0,99.46 431.5,99.14 432.0,98.41 432.5,96.67 433.0,93.90 433.2,92.73 433.5,92.21 433.5,92.15 433.7,92.72 434.0,94.13 434.5,96.85 435.0,98.53 435.5,99.32 436.0,99.60 436.5,99.70 437.0,99.73 437.5,99.75 438.0,99.90 438.5,100.04 439.0,99.95 439.5,99.84 440.0,99.87 440.5,99.89 441.0,99.92 441.5,99.93 442.0,99.95 442.5,100.05 443.0,100.08 443.5,100.09 444.0,100.15 444.5,100.20 445.0,100.11 445.5,99.96 446.0,99.89 446.5,99.85 447.0,99.94 447.5,100.12 448.0,100.20 448.5,100.17 449.0,100.08 449.5,100.07 450.0,100.13 450.5,100.23 451.0,100.22 451.5,100.25 452.0,100.35 452.5,100.21 453.0,100.07 453.5,100.14 454.0,100.18 454.5,100.13 455.0,100.11 455.5,100.17 456.0,100.21 456.5,100.26 457.0,100.21 457.5,100.00 458.0,99.91 458.5,99.97 459.0,100.06 459.5,100.10 460.0,100.06 460.5,100.02 461.0,100.10 461.5,100.10 462.0,99.91 462.5,99.80 463.0,99.64 463.5,99.25 464.0,98.85 464.2,98.85 464.5,98.80 464.5,98.68 464.7,98.73 465.0,99.05 465.5,99.44 466.0,99.66 466.5,99.84 467.0,100.04 467.5,100.22 468.0,100.19 468.5,100.03 469.0,99.98 469.5,100.06 470.0,100.04 470.5,100.04 471.0,100.12 471.5,100.14 472.0,100.24 472.5,100.22 473.0,100.07 473.5,100.03 474.0,100.04 474.5,100.15 475.0,100.20 475.5,100.19 476.0,100.27 476.5,100.19 477.0,100.08 477.5,100.17 478.0,100.20 478.5,100.12 479.0,100.10 479.5,100.15 480.0,100.26 480.5,100.26 481.0,100.23 481.5,100.23 482.0,100.14 482.5,100.21 483.0,100.35 483.5,100.35 484.0,100.34 484.5,100.28 485.0,100.18 485.5,100.19 486.0,100.22 486.5,100.18 487.0,100.13 487.5,100.09 488.0,100.11 488.5,100.22 489.0,100.32 489.5,100.26 490.0,100.18 490.5,100.25 491.0,100.24 491.5,100.16 492.0,100.25 492.5,100.36 493.0,100.38 493.5,100.39 494.0,100.42 494.5,100.39 495.0,100.23 495.5,100.09 496.0,100.16 496.5,100.29" fill="none" stroke="#4d84dc" stroke-width="1" stroke-linejoin="round" clip-path="url(#cb0)"/><polyline points="38.5,203.52 39.0,203.51 39.5,203.44 40.0,203.48 40.5,203.75 41.0,203.84 41.5,203.77 42.0,203.81 42.5,203.81 43.0,203.81 43.5,203.88 44.0,203.87 44.5,203.83 45.0,203.87 45.5,203.96 46.0,204.03 46.5,204.04 47.0,204.03 47.5,204.04 48.0,204.08 48.5,204.19 49.0,204.24 49.5,204.26 50.0,204.25 50.5,204.24 51.0,204.41 51.5,204.46 52.0,204.25 52.5,204.13 53.0,204.27 53.5,204.47 54.0,204.58 54.5,204.64 55.0,204.66 55.5,204.64 56.0,204.64 56.5,204.68 57.0,204.69 57.5,204.63 58.0,204.67 58.5,204.84 59.0,204.92 59.5,204.80 60.0,204.72 60.5,204.84 61.0,204.97 61.5,205.02 62.0,205.00 62.5,204.96 63.0,205.10 63.5,205.15 64.0,205.04 64.5,205.14 65.0,205.28 65.5,205.29 66.0,205.41 66.5,205.50 67.0,205.40 67.5,205.28 68.0,205.31 68.5,205.40 69.0,205.42 69.5,205.42 70.0,205.49 70.5,205.51 71.0,205.42 71.5,205.31 72.0,205.39 72.5,205.63 73.0,205.78 73.5,205.82 74.0,205.75 74.5,205.71 75.0,205.79 75.5,205.78 76.0,205.71 76.5,205.83 77.0,206.03 77.5,206.06 78.0,206.01 78.5,205.97 79.0,206.00 79.5,206.10 80.0,206.09 80.5,206.06 81.0,206.08 81.5,206.12 82.0,206.24 82.5,206.31 83.0,206.32 83.5,206.37 84.0,206.35 84.5,206.33 85.0,206.33 85.5,206.39 86.0,206.44 86.5,206.44 87.0,206.43 87.5,206.44 88.0,206.43 88.5,206.45 89.0,206.58 89.5,206.74 90.0,206.83 90.5,206.93 91.0,207.01 91.5,206.91 92.0,206.89 92.5,206.96 93.0,206.93 93.5,206.91 94.0,206.91 94.5,206.87 95.0,206.87 95.5,206.98 96.0,207.00 96.5,207.02 97.0,207.18 97.5,207.20 98.0,207.09 98.5,207.05 99.0,207.09 99.5,207.16 100.0,207.25 100.5,207.25 101.0,207.16 101.5,207.13 102.0,207.12 102.5,207.11 103.0,207.17 103.5,207.30 104.0,207.42 104.5,207.44 105.0,207.37 105.5,207.37 106.0,207.46 106.5,207.56 107.0,207.53 107.5,207.45 108.0,207.38 108.5,207.39 109.0,207.48 109.5,207.52 110.0,207.50 110.5,207.48 111.0,207.54 111.5,207.63 112.0,207.71 112.5,207.73 113.0,207.68 113.5,207.63 114.0,207.64 114.5,207.64 115.0,207.66 115.5,207.73 116.0,207.76 116.5,207.83 117.0,207.91 117.5,207.91 118.0,207.82 118.5,207.73 119.0,207.76 119.5,207.78 120.0,207.78 120.5,207.91 121.0,207.97 121.5,207.99 122.0,208.10 122.5,208.12 123.0,208.05 123.5,208.00 124.0,208.08 124.5,208.10 125.0,208.10 125.5,208.20 126.0,208.16 126.5,208.04 127.0,208.07 127.5,208.16 128.0,208.30 128.5,208.32 129.0,208.18 129.5,208.18 130.0,208.27 130.5,208.37 131.0,208.49 131.5,208.47 132.0,208.41 132.5,208.35 133.0,208.29 133.5,208.42 134.0,208.53 134.5,208.47 135.0,208.45 135.5,208.61 136.0,208.72 136.5,208.60 137.0,208.54 137.5,208.58 138.0,208.53 138.5,208.56 139.0,208.65 139.5,208.68 140.0,208.70 140.5,208.78 141.0,208.72 141.5,208.52 142.0,208.51 142.5,208.71 143.0,208.88 143.5,208.86 144.0,208.81 144.5,208.84 145.0,208.90 145.5,208.92 146.0,208.85 146.5,208.83 147.0,208.95 147.5,208.92 148.0,208.80 148.5,208.77 149.0,208.31 149.5,205.65 149.8,201.17 150.0,199.25 150.1,199.03 150.3,201.22 150.5,203.78 151.0,207.85 151.5,208.55 152.0,208.84 152.5,209.18 153.0,209.27 153.5,209.13 154.0,209.04 154.5,208.97 155.0,208.90 155.5,208.95 156.0,208.97 156.5,208.89 157.0,208.94 157.5,209.09 158.0,209.15 158.5,209.17 159.0,209.17 159.5,209.05 160.0,208.93 160.5,208.94 161.0,209.08 161.5,209.19 162.0,209.20 162.5,209.15 163.0,209.07 163.5,209.04 164.0,209.02 164.5,209.08 165.0,209.26 165.5,209.23 166.0,209.04 166.5,208.97 167.0,208.93 167.5,208.86 168.0,208.79 168.5,208.63 169.0,208.38 169.5,208.00 170.0,207.24 170.5,205.48 171.0,198.09 171.5,158.14 171.5,154.74 171.8,135.95 172.0,151.57 172.0,155.07 172.5,196.26 173.0,205.41 173.5,207.33 174.0,208.16 174.5,208.67 175.0,208.86 175.5,208.92 176.0,209.13 176.5,209.16 177.0,209.02 177.5,209.09 178.0,209.17 178.5,209.14 179.0,209.18 179.5,209.30 180.0,209.44 180.5,209.59 181.0,209.67 181.5,209.60 182.0,209.57 182.5,209.57 183.0,209.50 183.5,209.37 184.0,209.31 184.5,209.45 185.0,209.66 185.5,209.76 186.0,209.72 186.5,209.63 187.0,209.62 187.5,209.76 188.0,209.77 188.5,209.65 189.0,209.58 189.5,209.63 190.0,209.76 190.5,209.76 191.0,209.71 191.5,209.74 192.0,209.74 192.5,209.64 193.0,209.55 193.5,209.51 194.0,209.56 194.5,209.80 195.0,209.88 195.5,209.72 196.0,209.73 196.5,209.78 197.0,209.73 197.5,209.73 198.0,209.77 198.5,209.84 199.0,209.83 199.5,209.84 200.0,209.88 200.5,209.77 201.0,209.67 201.5,209.78 202.0,209.91 202.5,209.91 203.0,209.86 203.5,209.82 204.0,209.88 204.5,209.95 205.0,209.99 205.5,210.03 206.0,209.90 206.5,209.72 207.0,209.76 207.5,209.90 208.0,209.96 208.5,209.97 209.0,210.02 209.5,210.07 210.0,210.02 210.5,209.90 211.0,209.92 211.5,209.91 212.0,209.86 212.5,209.96 213.0,210.03 213.5,209.94 214.0,209.82 214.5,209.66 215.0,209.21 215.4,208.48 215.5,208.37 215.7,208.25 215.9,208.52 216.0,208.75 216.5,209.53 217.0,209.71 217.5,209.74 218.0,209.61 218.5,209.57 219.0,209.74 219.5,209.86 220.0,209.81 220.5,209.73 221.0,209.78 221.5,209.90 222.0,209.95 222.5,209.91 223.0,209.84 223.5,209.78 224.0,209.77 224.5,209.83 225.0,209.84 225.5,209.75 226.0,209.75 226.5,209.92 227.0,210.02 227.5,209.95 228.0,209.86 228.5,209.86 229.0,209.92 229.5,209.98 230.0,209.99 230.5,209.87 231.0,209.73 231.5,209.69 232.0,209.65 232.5,209.71 233.0,209.88 233.5,209.85 234.0,209.78 234.5,209.87 235.0,209.81 235.5,209.69 236.0,209.71 236.5,209.67 237.0,209.52 237.5,209.42 238.0,209.47 238.5,209.34 239.0,209.06 239.5,208.83 240.0,208.02 240.5,203.76 241.0,188.31 241.0,188.09 241.2,182.50 241.5,188.30 241.5,188.53 242.0,203.88 242.5,207.96 243.0,208.86 243.5,209.15 244.0,209.29 244.5,209.35 245.0,209.46 245.5,209.61 246.0,209.65 246.5,209.74 247.0,209.87 247.5,209.77 248.0,209.65 248.5,209.62 249.0,209.60 249.5,209.47 250.0,208.64 250.4,207.20 250.5,206.91 250.7,206.56 250.9,207.09 251.0,207.48 251.5,209.15 252.0,209.55 252.5,209.47 253.0,209.45 253.5,209.51 254.0,209.59 254.5,209.59 255.0,209.58 255.5,209.64 256.0,209.77 256.5,209.80 257.0,209.65 257.5,209.60 258.0,209.59 258.5,209.54 259.0,209.54 259.5,209.63 260.0,209.71 260.5,209.61 261.0,209.30 261.5,208.46 261.7,207.92 262.0,207.59 262.0,207.57 262.2,207.86 262.5,208.58 263.0,209.43 263.5,209.59 264.0,209.68 264.5,209.84 265.0,209.98 265.5,210.03 266.0,209.92 266.5,209.85 267.0,209.84 267.5,209.88 268.0,209.89 268.5,209.82 269.0,209.82 269.5,209.87 270.0,209.90 270.5,209.96 271.0,210.01 271.5,210.00 272.0,209.92 272.5,209.82 273.0,209.75 273.5,209.77 274.0,209.85 274.5,209.91 275.0,209.85 275.5,209.81 276.0,209.87 276.5,209.83 277.0,209.80 277.5,209.87 278.0,209.83 278.5,209.68 279.0,209.72 279.5,209.84 280.0,209.82 280.5,209.75 281.0,209.80 281.5,209.84 282.0,209.70 282.5,209.36 283.0,208.32 283.5,206.51 283.5,206.38 283.8,205.94 284.0,206.17 284.0,206.31 284.5,208.03 285.0,209.19 285.5,209.53 286.0,209.74 286.5,209.98 287.0,210.01 287.5,209.90 288.0,209.81 288.5,209.80 289.0,209.92 289.5,209.93 290.0,209.90 290.5,210.03 291.0,210.03 291.5,209.88 292.0,209.84 292.5,209.88 293.0,209.89 293.5,209.79 294.0,209.72 294.5,209.75 295.0,209.57 295.5,208.81 296.0,206.63 296.5,203.56 296.5,203.37 296.7,202.89 297.0,203.61 297.0,203.74 297.5,206.90 298.0,208.80 298.5,209.43 299.0,209.59 299.5,209.68 300.0,209.81 300.5,209.87 301.0,209.91 301.5,210.01 302.0,210.14 302.5,210.23 303.0,210.11 303.5,209.98 304.0,210.02 304.5,210.07 305.0,210.09 305.5,210.05 306.0,210.02 306.5,210.03 307.0,209.99 307.5,209.94 308.0,210.02 308.5,210.17 309.0,210.24 309.5,210.17 310.0,210.14 310.5,210.22 311.0,210.30 311.5,210.35 312.0,210.29 312.5,210.26 313.0,210.36 313.5,210.35 314.0,210.22 314.5,210.12 315.0,210.05 315.5,210.06 316.0,210.10 316.5,210.12 317.0,210.14 317.5,210.16 318.0,210.20 318.5,210.25 319.0,210.22 319.5,210.12 320.0,210.13 320.5,210.31 321.0,210.35 321.5,210.25 322.0,210.17 322.5,210.05 323.0,210.01 323.5,210.18 324.0,210.28 324.5,210.15 325.0,210.17 325.5,210.23 326.0,210.15 326.5,210.21 327.0,210.27 327.5,210.23 328.0,210.33 328.5,210.39 329.0,210.22 329.5,210.14 330.0,210.16 330.5,210.10 331.0,210.15 331.5,210.30 332.0,210.23 332.5,210.06 333.0,210.11 333.5,210.24 334.0,210.21 334.5,210.12 335.0,210.17 335.5,210.25 336.0,210.28 336.5,210.19 337.0,210.16 337.5,210.30 338.0,210.38 338.5,210.48 339.0,210.50 339.5,210.25 340.0,210.12 340.5,210.20 341.0,210.17 341.5,210.07 342.0,210.09 342.5,210.16 343.0,209.99 343.5,209.73 344.0,209.36 344.5,208.34 345.0,206.43 345.2,205.66 345.4,205.22 345.5,205.30 345.7,205.73 346.0,207.04 346.5,208.88 347.0,209.62 347.5,209.86 348.0,210.07 348.5,210.18 349.0,210.18 349.5,210.18 350.0,210.21 350.5,210.25 351.0,210.25 351.5,210.17 352.0,210.16 352.5,210.19 353.0,210.19 353.5,210.25 354.0,210.30 354.5,210.25 355.0,210.17 355.5,210.24 356.0,210.40 356.5,210.36 357.0,210.17 357.5,210.23 358.0,210.44 358.5,210.47 359.0,210.39 359.5,210.31 360.0,210.20 360.5,210.24 361.0,210.26 361.5,210.12 362.0,210.17 362.5,210.35 363.0,210.38 363.5,210.29 364.0,210.34 364.5,210.40 365.0,210.26 365.5,210.16 366.0,210.21 366.5,210.30 367.0,210.38 367.5,210.32 368.0,210.32 368.5,210.42 369.0,210.36 369.5,210.33 370.0,210.38 370.5,210.37 371.0,210.35 371.5,210.33 372.0,210.23 372.5,210.15 373.0,210.19 373.5,210.23 374.0,210.24 374.5,210.23 375.0,210.25 375.5,210.38 376.0,210.31 376.5,210.07 377.0,210.00 377.5,209.79 378.0,209.33 378.5,208.87 378.6,208.83 378.8,208.68 379.0,208.80 379.1,208.99 379.5,209.51 380.0,209.93 380.5,210.12 381.0,210.17 381.5,210.15 382.0,210.13 382.5,210.13 383.0,210.15 383.5,210.21 384.0,210.26 384.5,210.25 385.0,210.34 385.5,210.26 386.0,209.97 386.5,209.84 387.0,209.76 387.5,209.48 388.0,208.92 388.5,207.50 389.0,204.34 389.5,200.71 389.5,200.49 389.7,199.84 390.0,200.62 390.0,201.02 390.5,204.99 391.0,207.83 391.5,209.14 392.0,209.52 392.5,209.69 393.0,209.89 393.5,209.94 394.0,210.02 394.5,210.19 395.0,210.33 395.5,210.34 396.0,210.23 396.5,210.15 397.0,210.21 397.5,210.38 398.0,210.45 398.5,210.34 399.0,210.26 399.5,210.30 400.0,210.26 400.5,210.21 401.0,210.25 401.5,210.32 402.0,210.36 402.5,210.42 403.0,210.44 403.5,210.28 404.0,210.04 404.5,210.06 405.0,210.22 405.5,210.37 406.0,210.45 406.5,210.36 407.0,210.31 407.5,210.40 408.0,210.40 408.5,210.33 409.0,210.27 409.5,210.18 410.0,210.21 410.5,210.29 411.0,210.26 411.5,210.33 412.0,210.41 412.5,210.41 413.0,210.41 413.5,210.28 414.0,210.10 414.5,210.10 415.0,210.23 415.5,210.29 416.0,210.20 416.5,210.17 417.0,210.28 417.5,210.32 418.0,210.17 418.5,210.14 419.0,210.19 419.5,210.15 420.0,210.20 420.5,210.19 421.0,210.12 421.5,210.14 422.0,210.18 422.5,210.26 423.0,210.37 423.5,210.40 424.0,210.33 424.5,210.24 425.0,210.21 425.5,210.27 426.0,210.25 426.5,210.15 427.0,210.17 427.5,210.19 428.0,210.18 428.5,210.21 429.0,210.19 429.5,210.06 430.0,209.87 430.5,209.52 431.0,208.61 431.5,206.93 431.9,205.59 432.0,205.40 432.1,205.25 432.4,205.51 432.5,205.76 433.0,207.59 433.5,208.95 434.0,209.66 434.5,209.96 435.0,210.25 435.5,210.41 436.0,210.31 436.5,210.31 437.0,210.29 437.5,210.18 438.0,210.19 438.5,210.33 439.0,210.42 439.5,210.30 440.0,210.14 440.5,210.14 441.0,210.29 441.5,210.41 442.0,210.39 442.5,210.39 443.0,210.41 443.5,210.34 444.0,210.29 444.5,210.23 445.0,210.19 445.5,210.31 446.0,210.42 446.5,210.37 447.0,210.24 447.5,210.26 448.0,210.39 448.5,210.45 449.0,210.43 449.5,210.33 450.0,210.29 450.5,210.31 451.0,210.32 451.5,210.34 452.0,210.41 452.5,210.48 453.0,210.37 453.5,210.27 454.0,210.37 454.5,210.38 455.0,210.25 455.5,210.24 456.0,210.34 456.5,210.38 457.0,210.27 457.5,210.21 458.0,210.31 458.5,210.46 459.0,210.48 459.5,210.42 460.0,210.53 460.5,210.54 461.0,210.39 461.5,210.27 462.0,210.01 462.5,209.58 463.0,209.11 463.1,208.99 463.4,208.86 463.5,208.84 463.6,208.95 464.0,209.28 464.5,209.80 465.0,210.15 465.5,210.24 466.0,210.28 466.5,210.27 467.0,210.22 467.5,210.31 468.0,210.38 468.5,210.33 469.0,210.21 469.5,210.18 470.0,210.31 470.5,210.47 471.0,210.57 471.5,210.61 472.0,210.58 472.5,210.54 473.0,210.51 473.5,210.47 474.0,210.50 474.5,210.63 475.0,210.68 475.5,210.50 476.0,210.39 476.5,210.46 477.0,210.42 477.5,210.38 478.0,210.37 478.5,210.41 479.0,210.53 479.5,210.52 480.0,210.42 480.5,210.41 481.0,210.44 481.5,210.46 482.0,210.41 482.5,210.35 483.0,210.35 483.5,210.40 484.0,210.42 484.5,210.39 485.0,210.43 485.5,210.59 486.0,210.70 486.5,210.51 487.0,210.24 487.5,210.29 488.0,210.43 488.5,210.54 489.0,210.64 489.5,210.50 490.0,210.33 490.5,210.41 491.0,210.52 491.5,210.57 492.0,210.56 492.5,210.49 493.0,210.46 493.5,210.40 494.0,210.44 494.5,210.61 495.0,210.66 495.5,210.46 496.0,210.36 496.5,210.48" fill="none" stroke="#ec8e96" stroke-width="1" stroke-linejoin="round"/><polyline points="38.5,203.52 39.0,203.51 39.5,203.44 40.0,203.48 40.5,203.75 41.0,203.84 41.5,203.77 42.0,203.81 42.5,203.81 43.0,203.81 43.5,203.88 44.0,203.87 44.5,203.83 45.0,203.87 45.5,203.96 46.0,204.03 46.5,204.04 47.0,204.03 47.5,204.04 48.0,204.08 48.5,204.19 49.0,204.24 49.5,204.26 50.0,204.25 50.5,204.24 51.0,204.41 51.5,204.46 52.0,204.25 52.5,204.13 53.0,204.27 53.5,204.47 54.0,204.58 54.5,204.64 55.0,204.66 55.5,204.64 56.0,204.64 56.5,204.68 57.0,204.69 57.5,204.63 58.0,204.67 58.5,204.84 59.0,204.92 59.5,204.80 60.0,204.72 60.5,204.84 61.0,204.97 61.5,205.02 62.0,205.00 62.5,204.96 63.0,205.10 63.5,205.15 64.0,205.04 64.5,205.14 65.0,205.28 65.5,205.29 66.0,205.41 66.5,205.50 67.0,205.40 67.5,205.28 68.0,205.31 68.5,205.40 69.0,205.42 69.5,205.42 70.0,205.49 70.5,205.51 71.0,205.42 71.5,205.31 72.0,205.39 72.5,205.63 73.0,205.78 73.5,205.82 74.0,205.75 74.5,205.71 75.0,205.79 75.5,205.78 76.0,205.71 76.5,205.83 77.0,206.03 77.5,206.06 78.0,206.01 78.5,205.97 79.0,206.00 79.5,206.10 80.0,206.09 80.5,206.06 81.0,206.08 81.5,206.12 82.0,206.24 82.5,206.31 83.0,206.32 83.5,206.37 84.0,206.35 84.5,206.33 85.0,206.33 85.5,206.39 86.0,206.44 86.5,206.44 87.0,206.43 87.5,206.44 88.0,206.43 88.5,206.45 89.0,206.58 89.5,206.74 90.0,206.83 90.5,206.93 91.0,207.01 91.5,206.91 92.0,206.89 92.5,206.96 93.0,206.93 93.5,206.91 94.0,206.91 94.5,206.87 95.0,206.87 95.5,206.98 96.0,207.00 96.5,207.02 97.0,207.18 97.5,207.20 98.0,207.09 98.5,207.05 99.0,207.09 99.5,207.16 100.0,207.25 100.5,207.25 101.0,207.16 101.5,207.13 102.0,207.12 102.5,207.11 103.0,207.17 103.5,207.30 104.0,207.42 104.5,207.44 105.0,207.37 105.5,207.37 106.0,207.46 106.5,207.56 107.0,207.53 107.5,207.45 108.0,207.38 108.5,207.39 109.0,207.48 109.5,207.52 110.0,207.50 110.5,207.48 111.0,207.54 111.5,207.63 112.0,207.71 112.5,207.73 113.0,207.68 113.5,207.63 114.0,207.64 114.5,207.64 115.0,207.66 115.5,207.73 116.0,207.76 116.5,207.83 117.0,207.91 117.5,207.91 118.0,207.82 118.5,207.73 119.0,207.76 119.5,207.78 120.0,207.78 120.5,207.91 121.0,207.97 121.5,207.99 122.0,208.10 122.5,208.12 123.0,208.05 123.5,208.00 124.0,208.08 124.5,208.10 125.0,208.10 125.5,208.20 126.0,208.16 126.5,208.04 127.0,208.07 127.5,208.16 128.0,208.30 128.5,208.32 129.0,208.18 129.5,208.18 130.0,208.27 130.5,208.37 131.0,208.49 131.5,208.47 132.0,208.41 132.5,208.35 133.0,208.29 133.5,208.42 134.0,208.53 134.5,208.47 135.0,208.45 135.5,208.61 136.0,208.72 136.5,208.60 137.0,208.54 137.5,208.58 138.0,208.53 138.5,208.56 139.0,208.65 139.5,208.68 140.0,208.70 140.5,208.78 141.0,208.72 141.5,208.52 142.0,208.51 142.5,208.71 143.0,208.88 143.5,208.86 144.0,208.81 144.5,208.84 145.0,208.90 145.5,208.92 146.0,208.85 146.5,208.83 147.0,208.95 147.5,208.92 148.0,208.80 148.5,208.77 149.0,208.31 149.5,205.65 149.8,201.17 150.0,199.25 150.1,199.03 150.3,201.22 150.5,203.78 151.0,207.85 151.5,208.55 152.0,208.84 152.5,209.18 153.0,209.27 153.5,209.13 154.0,209.04 154.5,208.97 155.0,208.90 155.5,208.95 156.0,208.97 156.5,208.89 157.0,208.94 157.5,209.09 158.0,209.15 158.5,209.17 159.0,209.17 159.5,209.05 160.0,208.93 160.5,208.94 161.0,209.08 161.5,209.19 162.0,209.20 162.5,209.15 163.0,209.07 163.5,209.04 164.0,209.02 164.5,209.08 165.0,209.26 165.5,209.23 166.0,209.04 166.5,208.97 167.0,208.93 167.5,208.86 168.0,208.79 168.5,208.63 169.0,208.38 169.5,208.00 170.0,207.24 170.5,205.48 171.0,198.09 171.5,158.14 171.5,154.74 171.8,135.95 172.0,151.57 172.0,155.07 172.5,196.26 173.0,205.41 173.5,207.33 174.0,208.16 174.5,208.67 175.0,208.86 175.5,208.92 176.0,209.13 176.5,209.16 177.0,209.02 177.5,209.09 178.0,209.17 178.5,209.14 179.0,209.18 179.5,209.30 180.0,209.44 180.5,209.59 181.0,209.67 181.5,209.60 182.0,209.57 182.5,209.57 183.0,209.50 183.5,209.37 184.0,209.31 184.5,209.45 185.0,209.66 185.5,209.76 186.0,209.72 186.5,209.63 187.0,209.62 187.5,209.76 188.0,209.77 188.5,209.65 189.0,209.58 189.5,209.63 190.0,209.76 190.5,209.76 191.0,209.71 191.5,209.74 192.0,209.74 192.5,209.64 193.0,209.55 193.5,209.51 194.0,209.56 194.5,209.80 195.0,209.88 195.5,209.72 196.0,209.73 196.5,209.78 197.0,209.73 197.5,209.73 198.0,209.77 198.5,209.84 199.0,209.83 199.5,209.84 200.0,209.88 200.5,209.77 201.0,209.67 201.5,209.78 202.0,209.91 202.5,209.91 203.0,209.86 203.5,209.82 204.0,209.88 204.5,209.95 205.0,209.99 205.5,210.03 206.0,209.90 206.5,209.72 207.0,209.76 207.5,209.90 208.0,209.96 208.5,209.97 209.0,210.02 209.5,210.07 210.0,210.02 210.5,209.90 211.0,209.92 211.5,209.91 212.0,209.86 212.5,209.96 213.0,210.03 213.5,209.94 214.0,209.82 214.5,209.66 215.0,209.21 215.4,208.48 215.5,208.37 215.7,208.25 215.9,208.52 216.0,208.75 216.5,209.53 217.0,209.71 217.5,209.74 218.0,209.61 218.5,209.57 219.0,209.74 219.5,209.86 220.0,209.81 220.5,209.73 221.0,209.78 221.5,209.90 222.0,209.95 222.5,209.91 223.0,209.84 223.5,209.78 224.0,209.77 224.5,209.83 225.0,209.84 225.5,209.75 226.0,209.75 226.5,209.92 227.0,210.02 227.5,209.95 228.0,209.86 228.5,209.86 229.0,209.92 229.5,209.98 230.0,209.99 230.5,209.87 231.0,209.73 231.5,209.69 232.0,209.65 232.5,209.71 233.0,209.88 233.5,209.85 234.0,209.78 234.5,209.87 235.0,209.81 235.5,209.69 236.0,209.71 236.5,209.67 237.0,209.52 237.5,209.42 238.0,209.47 238.5,209.34 239.0,209.06 239.5,208.83 240.0,208.02 240.5,203.76 241.0,188.31 241.0,188.09 241.2,182.50 241.5,188.30 241.5,188.53 242.0,203.88 242.5,207.96 243.0,208.86 243.5,209.15 244.0,209.29 244.5,209.35 245.0,209.46 245.5,209.61 246.0,209.65 246.5,209.74 247.0,209.87 247.5,209.77 248.0,209.65 248.5,209.62 249.0,209.60 249.5,209.47 250.0,208.64 250.4,207.20 250.5,206.91 250.7,206.56 250.9,207.09 251.0,207.48 251.5,209.15 252.0,209.55 252.5,209.47 253.0,209.45 253.5,209.51 254.0,209.59 254.5,209.59 255.0,209.58 255.5,209.64 256.0,209.77 256.5,209.80 257.0,209.65 257.5,209.60 258.0,209.59 258.5,209.54 259.0,209.54 259.5,209.63 260.0,209.71 260.5,209.61 261.0,209.30 261.5,208.46 261.7,207.92 262.0,207.59 262.0,207.57 262.2,207.86 262.5,208.58 263.0,209.43 263.5,209.59 264.0,209.68 264.5,209.84 265.0,209.98 265.5,210.03 266.0,209.92 266.5,209.85 267.0,209.84 267.5,209.88 268.0,209.89 268.5,209.82 269.0,209.82 269.5,209.87 270.0,209.90 270.5,209.96 271.0,210.01 271.5,210.00 272.0,209.92 272.5,209.82 273.0,209.75 273.5,209.77 274.0,209.85 274.5,209.91 275.0,209.85 275.5,209.81 276.0,209.87 276.5,209.83 277.0,209.80 277.5,209.87 278.0,209.83 278.5,209.68 279.0,209.72 279.5,209.84 280.0,209.82 280.5,209.75 281.0,209.80 281.5,209.84 282.0,209.70 282.5,209.36 283.0,208.32 283.5,206.51 283.5,206.38 283.8,205.94 284.0,206.17 284.0,206.31 284.5,208.03 285.0,209.19 285.5,209.53 286.0,209.74 286.5,209.98 287.0,210.01 287.5,209.90 288.0,209.81 288.5,209.80 289.0,209.92 289.5,209.93 290.0,209.90 290.5,210.03 291.0,210.03 291.5,209.88 292.0,209.84 292.5,209.88 293.0,209.89 293.5,209.79 294.0,209.72 294.5,209.75 295.0,209.57 295.5,208.81 296.0,206.63 296.5,203.56 296.5,203.37 296.7,202.89 297.0,203.61 297.0,203.74 297.5,206.90 298.0,208.80 298.5,209.43 299.0,209.59 299.5,209.68 300.0,209.81 300.5,209.87 301.0,209.91 301.5,210.01 302.0,210.14 302.5,210.23 303.0,210.11 303.5,209.98 304.0,210.02 304.5,210.07 305.0,210.09 305.5,210.05 306.0,210.02 306.5,210.03 307.0,209.99 307.5,209.94 308.0,210.02 308.5,210.17 309.0,210.24 309.5,210.17 310.0,210.14 310.5,210.22 311.0,210.30 311.5,210.35 312.0,210.29 312.5,210.26 313.0,210.36 313.5,210.35 314.0,210.22 314.5,210.12 315.0,210.05 315.5,210.06 316.0,210.10 316.5,210.12 317.0,210.14 317.5,210.16 318.0,210.20 318.5,210.25 319.0,210.22 319.5,210.12 320.0,210.13 320.5,210.31 321.0,210.35 321.5,210.25 322.0,210.17 322.5,210.05 323.0,210.01 323.5,210.18 324.0,210.28 324.5,210.15 325.0,210.17 325.5,210.23 326.0,210.15 326.5,210.21 327.0,210.27 327.5,210.23 328.0,210.33 328.5,210.39 329.0,210.22 329.5,210.14 330.0,210.16 330.5,210.10 331.0,210.15 331.5,210.30 332.0,210.23 332.5,210.06 333.0,210.11 333.5,210.24 334.0,210.21 334.5,210.12 335.0,210.17 335.5,210.25 336.0,210.28 336.5,210.19 337.0,210.16 337.5,210.30 338.0,210.38 338.5,210.48 339.0,210.50 339.5,210.25 340.0,210.12 340.5,210.20 341.0,210.17 341.5,210.07 342.0,210.09 342.5,210.16 343.0,209.99 343.5,209.73 344.0,209.36 344.5,208.34 345.0,206.43 345.2,205.66 345.4,205.22 345.5,205.30 345.7,205.73 346.0,207.04 346.5,208.88 347.0,209.62 347.5,209.86 348.0,210.07 348.5,210.18 349.0,210.18 349.5,210.18 350.0,210.21 350.5,210.25 351.0,210.25 351.5,210.17 352.0,210.16 352.5,210.19 353.0,210.19 353.5,210.25 354.0,210.30 354.5,210.25 355.0,210.17 355.5,210.24 356.0,210.40 356.5,210.36 357.0,210.17 357.5,210.23 358.0,210.44 358.5,210.47 359.0,210.39 359.5,210.31 360.0,210.20 360.5,210.24 361.0,210.26 361.5,210.12 362.0,210.17 362.5,210.35 363.0,210.38 363.5,210.29 364.0,210.34 364.5,210.40 365.0,210.26 365.5,210.16 366.0,210.21 366.5,210.30 367.0,210.38 367.5,210.32 368.0,210.32 368.5,210.42 369.0,210.36 369.5,210.33 370.0,210.38 370.5,210.37 371.0,210.35 371.5,210.33 372.0,210.23 372.5,210.15 373.0,210.19 373.5,210.23 374.0,210.24 374.5,210.23 375.0,210.25 375.5,210.38 376.0,210.31 376.5,210.07 377.0,210.00 377.5,209.79 378.0,209.33 378.5,208.87 378.6,208.83 378.8,208.68 379.0,208.80 379.1,208.99 379.5,209.51 380.0,209.93 380.5,210.12 381.0,210.17 381.5,210.15 382.0,210.13 382.5,210.13 383.0,210.15 383.5,210.21 384.0,210.26 384.5,210.25 385.0,210.34 385.5,210.26 386.0,209.97 386.5,209.84 387.0,209.76 387.5,209.48 388.0,208.92 388.5,207.50 389.0,204.34 389.5,200.71 389.5,200.49 389.7,199.84 390.0,200.62 390.0,201.02 390.5,204.99 391.0,207.83 391.5,209.14 392.0,209.52 392.5,209.69 393.0,209.89 393.5,209.94 394.0,210.02 394.5,210.19 395.0,210.33 395.5,210.34 396.0,210.23 396.5,210.15 397.0,210.21 397.5,210.38 398.0,210.45 398.5,210.34 399.0,210.26 399.5,210.30 400.0,210.26 400.5,210.21 401.0,210.25 401.5,210.32 402.0,210.36 402.5,210.42 403.0,210.44 403.5,210.28 404.0,210.04 404.5,210.06 405.0,210.22 405.5,210.37 406.0,210.45 406.5,210.36 407.0,210.31 407.5,210.40 408.0,210.40 408.5,210.33 409.0,210.27 409.5,210.18 410.0,210.21 410.5,210.29 411.0,210.26 411.5,210.33 412.0,210.41 412.5,210.41 413.0,210.41 413.5,210.28 414.0,210.10 414.5,210.10 415.0,210.23 415.5,210.29 416.0,210.20 416.5,210.17 417.0,210.28 417.5,210.32 418.0,210.17 418.5,210.14 419.0,210.19 419.5,210.15 420.0,210.20 420.5,210.19 421.0,210.12 421.5,210.14 422.0,210.18 422.5,210.26 423.0,210.37 423.5,210.40 424.0,210.33 424.5,210.24 425.0,210.21 425.5,210.27 426.0,210.25 426.5,210.15 427.0,210.17 427.5,210.19 428.0,210.18 428.5,210.21 429.0,210.19 429.5,210.06 430.0,209.87 430.5,209.52 431.0,208.61 431.5,206.93 431.9,205.59 432.0,205.40 432.1,205.25 432.4,205.51 432.5,205.76 433.0,207.59 433.5,208.95 434.0,209.66 434.5,209.96 435.0,210.25 435.5,210.41 436.0,210.31 436.5,210.31 437.0,210.29 437.5,210.18 438.0,210.19 438.5,210.33 439.0,210.42 439.5,210.30 440.0,210.14 440.5,210.14 441.0,210.29 441.5,210.41 442.0,210.39 442.5,210.39 443.0,210.41 443.5,210.34 444.0,210.29 444.5,210.23 445.0,210.19 445.5,210.31 446.0,210.42 446.5,210.37 447.0,210.24 447.5,210.26 448.0,210.39 448.5,210.45 449.0,210.43 449.5,210.33 450.0,210.29 450.5,210.31 451.0,210.32 451.5,210.34 452.0,210.41 452.5,210.48 453.0,210.37 453.5,210.27 454.0,210.37 454.5,210.38 455.0,210.25 455.5,210.24 456.0,210.34 456.5,210.38 457.0,210.27 457.5,210.21 458.0,210.31 458.5,210.46 459.0,210.48 459.5,210.42 460.0,210.53 460.5,210.54 461.0,210.39 461.5,210.27 462.0,210.01 462.5,209.58 463.0,209.11 463.1,208.99 463.4,208.86 463.5,208.84 463.6,208.95 464.0,209.28 464.5,209.80 465.0,210.15 465.5,210.24 466.0,210.28 466.5,210.27 467.0,210.22 467.5,210.31 468.0,210.38 468.5,210.33 469.0,210.21 469.5,210.18 470.0,210.31 470.5,210.47 471.0,210.57 471.5,210.61 472.0,210.58 472.5,210.54 473.0,210.51 473.5,210.47 474.0,210.50 474.5,210.63 475.0,210.68 475.5,210.50 476.0,210.39 476.5,210.46 477.0,210.42 477.5,210.38 478.0,210.37 478.5,210.41 479.0,210.53 479.5,210.52 480.0,210.42 480.5,210.41 481.0,210.44 481.5,210.46 482.0,210.41 482.5,210.35 483.0,210.35 483.5,210.40 484.0,210.42 484.5,210.39 485.0,210.43 485.5,210.59 486.0,210.70 486.5,210.51 487.0,210.24 487.5,210.29 488.0,210.43 488.5,210.54 489.0,210.64 489.5,210.50 490.0,210.33 490.5,210.41 491.0,210.52 491.5,210.57 492.0,210.56 492.5,210.49 493.0,210.46 493.5,210.40 494.0,210.44 494.5,210.61 495.0,210.66 495.5,210.46 496.0,210.36 496.5,210.48" fill="none" stroke="#e2525e" stroke-width="1" stroke-linejoin="round" clip-path="url(#cb1)"/><polyline points="38.5,322.80 39.0,322.66 39.5,322.71 40.0,322.79 40.5,322.81 41.0,322.80 41.5,322.77 42.0,322.85 42.5,323.07 43.0,323.29 43.5,323.23 44.0,323.09 44.5,323.10 45.0,323.09 45.5,323.10 46.0,323.21 46.5,323.32 47.0,323.38 47.5,323.43 48.0,323.43 48.5,323.50 49.0,323.63 49.5,323.60 50.0,323.52 50.5,323.57 51.0,323.73 51.5,323.82 52.0,323.74 52.5,323.74 53.0,323.80 53.5,323.76 54.0,323.81 54.5,323.95 55.0,323.99 55.5,324.00 56.0,323.92 56.5,323.85 57.0,323.98 57.5,323.98 58.0,323.96 58.5,324.14 59.0,324.24 59.5,324.17 60.0,324.16 60.5,324.25 61.0,324.38 61.5,324.51 62.0,324.52 62.5,324.53 63.0,324.56 63.5,324.50 64.0,324.48 64.5,324.61 65.0,324.67 65.5,324.62 66.0,324.62 66.5,324.61 67.0,324.59 67.5,324.77 68.0,324.83 68.5,324.75 69.0,324.80 69.5,324.89 70.0,324.91 70.5,324.83 71.0,324.91 71.5,325.14 72.0,325.14 72.5,325.00 73.0,325.07 73.5,325.20 74.0,325.28 74.5,325.34 75.0,325.30 75.5,325.30 76.0,325.38 76.5,325.50 77.0,325.50 77.5,325.40 78.0,325.45 78.5,325.67 79.0,325.76 79.5,325.78 80.0,325.81 80.5,325.76 81.0,325.68 81.5,325.66 82.0,325.78 82.5,325.87 83.0,325.80 83.5,325.81 84.0,325.92 84.5,326.02 85.0,326.04 85.5,325.92 86.0,325.91 86.5,326.12 87.0,326.30 87.5,326.33 88.0,326.28 88.5,326.27 89.0,326.32 89.5,326.37 90.0,326.41 90.5,326.40 91.0,326.43 91.5,326.51 92.0,326.58 92.5,326.70 93.0,326.87 93.5,326.90 94.0,326.74 94.5,326.54 95.0,326.55 95.5,326.66 96.0,326.65 96.5,326.63 97.0,326.81 97.5,326.87 98.0,326.71 98.5,326.67 99.0,326.75 99.5,326.87 100.0,327.03 100.5,327.09 101.0,327.03 101.5,327.01 102.0,327.09 102.5,327.17 103.0,327.20 103.5,327.13 104.0,327.02 104.5,326.99 105.0,327.09 105.5,327.23 106.0,327.24 106.5,327.15 107.0,327.15 107.5,327.20 108.0,327.15 108.5,327.16 109.0,327.37 109.5,327.49 110.0,327.36 110.5,327.23 111.0,327.18 111.5,327.24 112.0,327.41 112.5,327.50 113.0,327.48 113.5,327.49 114.0,327.50 114.5,327.45 115.0,327.38 115.5,327.44 116.0,327.52 116.5,327.50 117.0,327.50 117.5,327.52 118.0,327.62 118.5,327.70 119.0,327.68 119.5,327.71 120.0,327.81 120.5,327.90 121.0,327.84 121.5,327.72 122.0,327.77 122.5,327.83 123.0,327.87 123.5,327.99 124.0,328.05 124.5,328.04 125.0,328.05 125.5,328.08 126.0,328.01 126.5,328.00 127.0,328.05 127.5,328.11 128.0,328.25 128.5,328.33 129.0,328.31 129.5,328.19 130.0,328.11 130.5,328.19 131.0,328.22 131.5,328.20 132.0,328.23 132.5,328.32 133.0,328.36 133.5,328.34 134.0,328.33 134.5,328.28 135.0,328.21 135.5,328.22 136.0,328.27 136.5,328.41 137.0,328.52 137.5,328.52 138.0,328.59 138.5,328.65 139.0,328.60 139.5,328.54 140.0,328.47 140.5,328.45 141.0,328.51 141.5,328.52 142.0,328.60 142.5,328.71 143.0,328.74 143.5,328.68 144.0,328.63 144.5,328.68 145.0,328.68 145.5,328.69 146.0,328.72 146.5,328.72 147.0,328.67 147.5,328.62 148.0,328.52 148.5,328.36 149.0,328.15 149.5,327.47 150.0,323.17 150.3,317.83 150.5,314.29 150.5,314.31 150.8,317.72 151.0,322.75 151.5,327.49 152.0,328.25 152.5,328.43 153.0,328.64 153.5,328.80 154.0,328.82 154.5,328.83 155.0,328.96 155.5,328.99 156.0,328.88 156.5,328.88 157.0,328.94 157.5,329.03 158.0,329.14 158.5,329.07 159.0,328.93 159.5,328.94 160.0,329.11 160.5,329.23 161.0,329.15 161.5,329.09 162.0,329.12 162.5,329.18 163.0,329.23 163.5,329.15 164.0,329.12 164.5,329.13 165.0,329.07 165.5,329.05 166.0,329.12 166.5,329.06 167.0,328.93 167.5,328.81 168.0,328.77 168.5,328.79 169.0,328.70 169.5,328.44 170.0,327.98 170.5,327.00 171.0,324.73 171.5,313.88 172.0,267.82 172.0,262.55 172.2,246.60 172.5,268.02 172.5,273.32 173.0,317.31 173.5,325.38 174.0,327.33 174.5,328.06 175.0,328.43 175.5,328.75 176.0,328.91 176.5,328.93 177.0,329.11 177.5,329.25 178.0,329.26 178.5,329.37 179.0,329.38 179.5,329.32 180.0,329.29 180.5,329.24 181.0,329.37 181.5,329.51 182.0,329.51 182.5,329.56 183.0,329.58 183.5,329.56 184.0,329.45 184.5,329.31 185.0,329.40 185.5,329.48 186.0,329.41 186.5,329.42 187.0,329.52 187.5,329.48 188.0,329.41 188.5,329.52 189.0,329.64 189.5,329.66 190.0,329.75 190.5,329.81 191.0,329.68 191.5,329.53 192.0,329.53 192.5,329.67 193.0,329.78 193.5,329.79 194.0,329.75 194.5,329.73 195.0,329.72 195.5,329.71 196.0,329.66 196.5,329.59 197.0,329.58 197.5,329.64 198.0,329.65 198.5,329.71 199.0,329.82 199.5,329.96 200.0,330.10 200.5,330.01 201.0,329.87 201.5,329.91 202.0,329.90 202.5,329.88 203.0,329.92 203.5,329.75 204.0,329.65 204.5,329.81 205.0,329.94 205.5,329.97 206.0,329.86 206.5,329.84 207.0,329.94 207.5,329.89 208.0,329.94 208.5,330.04 209.0,329.98 209.5,329.92 210.0,329.95 210.5,329.96 211.0,329.91 211.5,329.96 212.0,330.09 212.5,330.12 213.0,329.96 213.5,329.87 214.0,329.94 214.5,329.94 215.0,329.95 215.5,330.00 216.0,330.01 216.5,329.93 217.0,329.80 217.5,329.70 218.0,329.83 218.5,330.00 219.0,329.92 219.5,329.81 220.0,329.85 220.5,329.95 221.0,329.94 221.5,329.89 222.0,329.97 222.5,330.03 223.0,330.00 223.5,330.01 224.0,330.09 224.5,330.06 225.0,329.95 225.5,329.91 226.0,329.96 226.5,330.01 227.0,330.02 227.5,330.06 228.0,330.11 228.5,330.13 229.0,330.08 229.5,329.92 230.0,329.82 230.5,329.94 231.0,330.04 231.5,330.03 232.0,329.99 232.5,329.92 233.0,329.86 233.5,329.91 234.0,330.02 234.5,329.98 235.0,329.83 235.5,329.77 236.0,329.88 236.5,329.99 237.0,329.90 237.5,329.80 238.0,329.86 238.5,329.83 239.0,329.62 239.5,329.32 240.0,328.75 240.5,327.16 241.0,318.94 241.4,302.41 241.5,297.14 241.6,295.16 241.9,302.45 242.0,308.69 242.5,324.70 243.0,328.19 243.5,328.99 244.0,329.41 244.5,329.67 245.0,329.76 245.5,329.76 246.0,329.85 246.5,330.01 247.0,330.06 247.5,330.00 248.0,329.98 248.5,330.04 249.0,330.04 249.5,329.90 250.0,329.87 250.5,329.93 251.0,329.92 251.5,329.94 252.0,330.04 252.5,330.04 253.0,330.01 253.5,330.00 254.0,329.97 254.5,329.97 255.0,329.91 255.5,329.93 256.0,330.05 256.5,330.03 257.0,329.98 257.5,330.03 258.0,330.10 258.5,330.10 259.0,330.12 259.5,330.14 260.0,330.06 260.5,330.01 261.0,330.09 261.5,330.21 262.0,330.28 262.5,330.25 263.0,330.15 263.5,330.13 264.0,330.16 264.5,330.16 265.0,330.20 265.5,330.19 266.0,330.10 266.5,330.09 267.0,330.19 267.5,330.37 268.0,330.41 268.5,330.24 269.0,330.05 269.5,329.97 270.0,330.07 270.5,330.12 271.0,330.10 271.5,330.11 272.0,330.05 272.5,330.08 273.0,330.11 273.5,330.10 274.0,330.22 274.5,330.23 275.0,330.04 275.5,330.02 276.0,330.16 276.5,330.14 277.0,330.05 277.5,330.09 278.0,330.13 278.5,330.17 279.0,330.22 279.5,330.27 280.0,330.33 280.5,330.31 281.0,330.21 281.5,330.17 282.0,330.06 282.5,329.63 283.0,328.57 283.5,326.57 283.7,325.79 283.9,325.32 284.0,325.30 284.2,325.74 284.5,327.15 285.0,329.05 285.5,329.75 286.0,329.93 286.5,330.03 287.0,330.07 287.5,330.12 288.0,330.16 288.5,330.26 289.0,330.32 289.5,330.22 290.0,330.16 290.5,330.19 291.0,330.17 291.5,330.07 292.0,330.05 292.5,330.12 293.0,330.14 293.5,330.05 294.0,329.91 294.5,329.80 295.0,329.70 295.5,329.19 296.0,327.28 296.5,323.14 296.7,321.03 297.0,319.92 297.0,319.92 297.2,321.00 297.5,323.50 298.0,327.39 298.5,329.09 299.0,329.80 299.5,330.08 300.0,330.09 300.5,330.14 301.0,330.23 301.5,330.21 302.0,330.20 302.5,330.30 303.0,330.34 303.5,330.36 304.0,330.33 304.5,330.26 305.0,330.32 305.5,330.35 306.0,330.27 306.5,330.24 307.0,330.21 307.5,330.23 308.0,330.40 308.5,330.45 309.0,330.42 309.5,330.41 310.0,330.33 310.5,330.39 311.0,330.54 311.5,330.43 312.0,330.10 312.5,329.98 313.0,330.21 313.5,330.41 314.0,330.38 314.5,330.38 315.0,330.39 315.5,330.35 316.0,330.41 316.5,330.48 317.0,330.48 317.5,330.42 318.0,330.39 318.5,330.40 319.0,330.44 319.5,330.59 320.0,330.63 320.5,330.36 321.0,330.18 321.5,330.30 322.0,330.46 322.5,330.55 323.0,330.50 323.5,330.36 324.0,330.37 324.5,330.44 325.0,330.42 325.5,330.45 326.0,330.47 326.5,330.49 327.0,330.53 327.5,330.54 328.0,330.47 328.5,330.38 329.0,330.40 329.5,330.44 330.0,330.49 330.5,330.52 331.0,330.42 331.5,330.32 332.0,330.32 332.5,330.40 333.0,330.44 333.5,330.43 334.0,330.49 334.5,330.48 335.0,330.36 335.5,330.31 336.0,330.41 336.5,330.41 337.0,330.35 337.5,330.50 338.0,330.60 338.5,330.52 339.0,330.55 339.5,330.66 340.0,330.55 340.5,330.36 341.0,330.33 341.5,330.33 342.0,330.22 342.5,330.13 343.0,330.18 343.5,330.14 344.0,329.95 344.5,329.48 345.0,328.10 345.5,325.63 345.6,325.05 345.9,324.66 346.0,324.85 346.1,325.19 346.5,327.01 347.0,328.95 347.5,329.81 348.0,330.15 348.5,330.25 349.0,330.31 349.5,330.35 350.0,330.32 350.5,330.26 351.0,330.32 351.5,330.47 352.0,330.48 352.5,330.42 353.0,330.42 353.5,330.40 354.0,330.30 354.5,330.29 355.0,330.36 355.5,330.35 356.0,330.36 356.5,330.42 357.0,330.44 357.5,330.50 358.0,330.63 358.5,330.66 359.0,330.60 359.5,330.49 360.0,330.37 360.5,330.32 361.0,330.30 361.5,330.27 362.0,330.37 362.5,330.58 363.0,330.67 363.5,330.58 364.0,330.47 364.5,330.45 365.0,330.47 365.5,330.51 366.0,330.54 366.5,330.65 367.0,330.76 367.5,330.75 368.0,330.71 368.5,330.58 369.0,330.52 369.5,330.65 370.0,330.65 370.5,330.51 371.0,330.41 371.5,330.36 372.0,330.45 372.5,330.54 373.0,330.49 373.5,330.37 374.0,330.36 374.5,330.48 375.0,330.57 375.5,330.55 376.0,330.44 376.5,330.41 377.0,330.49 377.5,330.39 378.0,330.16 378.5,329.67 379.0,328.89 379.1,328.80 379.4,328.76 379.5,328.88 379.6,329.03 380.0,329.41 380.5,329.83 381.0,330.16 381.5,330.37 382.0,330.36 382.5,330.25 383.0,330.25 383.5,330.41 384.0,330.46 384.5,330.34 385.0,330.31 385.5,330.30 386.0,330.13 386.5,330.18 387.0,330.30 387.5,330.08 388.0,329.68 388.5,328.98 389.0,327.13 389.5,323.24 389.9,319.86 390.0,319.26 390.1,318.95 390.4,319.85 390.5,320.61 391.0,325.09 391.5,328.13 392.0,329.41 392.5,329.94 393.0,330.18 393.5,330.22 394.0,330.23 394.5,330.29 395.0,330.39 395.5,330.48 396.0,330.49 396.5,330.50 397.0,330.47 397.5,330.47 398.0,330.51 398.5,330.48 399.0,330.56 399.5,330.62 400.0,330.52 400.5,330.44 401.0,330.41 401.5,330.40 402.0,330.42 402.5,330.46 403.0,330.52 403.5,330.63 404.0,330.73 404.5,330.70 405.0,330.65 405.5,330.60 406.0,330.54 406.5,330.45 407.0,330.42 407.5,330.60 408.0,330.76 408.5,330.69 409.0,330.65 409.5,330.70 410.0,330.62 410.5,330.50 411.0,330.45 411.5,330.48 412.0,330.64 412.5,330.76 413.0,330.64 413.5,330.51 414.0,330.53 414.5,330.52 415.0,330.49 415.5,330.60 416.0,330.70 416.5,330.71 417.0,330.64 417.5,330.49 418.0,330.50 418.5,330.71 419.0,330.71 419.5,330.56 420.0,330.59 420.5,330.67 421.0,330.69 421.5,330.65 422.0,330.61 422.5,330.64 423.0,330.65 423.5,330.56 424.0,330.36 424.5,330.28 425.0,330.38 425.5,330.47 426.0,330.60 426.5,330.68 427.0,330.63 427.5,330.56 428.0,330.60 428.5,330.60 429.0,330.53 429.5,330.52 430.0,330.47 430.5,330.34 431.0,330.04 431.5,329.22 432.0,327.48 432.5,324.76 432.7,323.75 433.0,323.30 433.0,323.37 433.2,323.84 433.5,325.28 434.0,327.85 434.5,329.51 435.0,330.22 435.5,330.43 436.0,330.55 436.5,330.66 437.0,330.71 437.5,330.58 438.0,330.51 438.5,330.64 439.0,330.61 439.5,330.49 440.0,330.46 440.5,330.46 441.0,330.50 441.5,330.60 442.0,330.73 442.5,330.68 443.0,330.47 443.5,330.43 444.0,330.46 444.5,330.46 445.0,330.55 445.5,330.60 446.0,330.55 446.5,330.58 447.0,330.71 447.5,330.83 448.0,330.81 448.5,330.73 449.0,330.67 449.5,330.63 450.0,330.60 450.5,330.60 451.0,330.60 451.5,330.52 452.0,330.50 452.5,330.61 453.0,330.61 453.5,330.51 454.0,330.53 454.5,330.62 455.0,330.61 455.5,330.56 456.0,330.58 456.5,330.65 457.0,330.73 457.5,330.65 458.0,330.43 458.5,330.38 459.0,330.56 459.5,330.70 460.0,330.68 460.5,330.64 461.0,330.51 461.5,330.45 462.0,330.53 462.5,330.53 463.0,330.35 463.5,330.07 464.0,329.84 464.2,329.82 464.5,329.81 464.5,329.76 464.7,329.74 465.0,329.92 465.5,330.26 466.0,330.38 466.5,330.37 467.0,330.36 467.5,330.47 468.0,330.55 468.5,330.44 469.0,330.45 469.5,330.63 470.0,330.68 470.5,330.63 471.0,330.65 471.5,330.70 472.0,330.68 472.5,330.68 473.0,330.71 473.5,330.71 474.0,330.65 474.5,330.58 475.0,330.55 475.5,330.44 476.0,330.41 476.5,330.51 477.0,330.53 477.5,330.52 478.0,330.56 478.5,330.64 479.0,330.58 479.5,330.47 480.0,330.56 480.5,330.60 481.0,330.55 481.5,330.64 482.0,330.77 482.5,330.70 483.0,330.56 483.5,330.52 484.0,330.51 484.5,330.32 485.0,330.21 485.5,330.32 486.0,330.50 486.5,330.64 487.0,330.58 487.5,330.42 488.0,330.42 488.5,330.49 489.0,330.46 489.5,330.45 490.0,330.50 490.5,330.54 491.0,330.54 491.5,330.59 492.0,330.70 492.5,330.64 493.0,330.56 493.5,330.67 494.0,330.68 494.5,330.59 495.0,330.52 495.5,330.52 496.0,330.55 496.5,330.53" fill="none" stroke="#979797" stroke-width="1" stroke-linejoin="round"/><polyline points="38.5,322.80 39.0,322.66 39.5,322.71 40.0,322.79 40.5,322.81 41.0,322.80 41.5,322.77 42.0,322.85 42.5,323.07 43.0,323.29 43.5,323.23 44.0,323.09 44.5,323.10 45.0,323.09 45.5,323.10 46.0,323.21 46.5,323.32 47.0,323.38 47.5,323.43 48.0,323.43 48.5,323.50 49.0,323.63 49.5,323.60 50.0,323.52 50.5,323.57 51.0,323.73 51.5,323.82 52.0,323.74 52.5,323.74 53.0,323.80 53.5,323.76 54.0,323.81 54.5,323.95 55.0,323.99 55.5,324.00 56.0,323.92 56.5,323.85 57.0,323.98 57.5,323.98 58.0,323.96 58.5,324.14 59.0,324.24 59.5,324.17 60.0,324.16 60.5,324.25 61.0,324.38 61.5,324.51 62.0,324.52 62.5,324.53 63.0,324.56 63.5,324.50 64.0,324.48 64.5,324.61 65.0,324.67 65.5,324.62 66.0,324.62 66.5,324.61 67.0,324.59 67.5,324.77 68.0,324.83 68.5,324.75 69.0,324.80 69.5,324.89 70.0,324.91 70.5,324.83 71.0,324.91 71.5,325.14 72.0,325.14 72.5,325.00 73.0,325.07 73.5,325.20 74.0,325.28 74.5,325.34 75.0,325.30 75.5,325.30 76.0,325.38 76.5,325.50 77.0,325.50 77.5,325.40 78.0,325.45 78.5,325.67 79.0,325.76 79.5,325.78 80.0,325.81 80.5,325.76 81.0,325.68 81.5,325.66 82.0,325.78 82.5,325.87 83.0,325.80 83.5,325.81 84.0,325.92 84.5,326.02 85.0,326.04 85.5,325.92 86.0,325.91 86.5,326.12 87.0,326.30 87.5,326.33 88.0,326.28 88.5,326.27 89.0,326.32 89.5,326.37 90.0,326.41 90.5,326.40 91.0,326.43 91.5,326.51 92.0,326.58 92.5,326.70 93.0,326.87 93.5,326.90 94.0,326.74 94.5,326.54 95.0,326.55 95.5,326.66 96.0,326.65 96.5,326.63 97.0,326.81 97.5,326.87 98.0,326.71 98.5,326.67 99.0,326.75 99.5,326.87 100.0,327.03 100.5,327.09 101.0,327.03 101.5,327.01 102.0,327.09 102.5,327.17 103.0,327.20 103.5,327.13 104.0,327.02 104.5,326.99 105.0,327.09 105.5,327.23 106.0,327.24 106.5,327.15 107.0,327.15 107.5,327.20 108.0,327.15 108.5,327.16 109.0,327.37 109.5,327.49 110.0,327.36 110.5,327.23 111.0,327.18 111.5,327.24 112.0,327.41 112.5,327.50 113.0,327.48 113.5,327.49 114.0,327.50 114.5,327.45 115.0,327.38 115.5,327.44 116.0,327.52 116.5,327.50 117.0,327.50 117.5,327.52 118.0,327.62 118.5,327.70 119.0,327.68 119.5,327.71 120.0,327.81 120.5,327.90 121.0,327.84 121.5,327.72 122.0,327.77 122.5,327.83 123.0,327.87 123.5,327.99 124.0,328.05 124.5,328.04 125.0,328.05 125.5,328.08 126.0,328.01 126.5,328.00 127.0,328.05 127.5,328.11 128.0,328.25 128.5,328.33 129.0,328.31 129.5,328.19 130.0,328.11 130.5,328.19 131.0,328.22 131.5,328.20 132.0,328.23 132.5,328.32 133.0,328.36 133.5,328.34 134.0,328.33 134.5,328.28 135.0,328.21 135.5,328.22 136.0,328.27 136.5,328.41 137.0,328.52 137.5,328.52 138.0,328.59 138.5,328.65 139.0,328.60 139.5,328.54 140.0,328.47 140.5,328.45 141.0,328.51 141.5,328.52 142.0,328.60 142.5,328.71 143.0,328.74 143.5,328.68 144.0,328.63 144.5,328.68 145.0,328.68 145.5,328.69 146.0,328.72 146.5,328.72 147.0,328.67 147.5,328.62 148.0,328.52 148.5,328.36 149.0,328.15 149.5,327.47 150.0,323.17 150.3,317.83 150.5,314.29 150.5,314.31 150.8,317.72 151.0,322.75 151.5,327.49 152.0,328.25 152.5,328.43 153.0,328.64 153.5,328.80 154.0,328.82 154.5,328.83 155.0,328.96 155.5,328.99 156.0,328.88 156.5,328.88 157.0,328.94 157.5,329.03 158.0,329.14 158.5,329.07 159.0,328.93 159.5,328.94 160.0,329.11 160.5,329.23 161.0,329.15 161.5,329.09 162.0,329.12 162.5,329.18 163.0,329.23 163.5,329.15 164.0,329.12 164.5,329.13 165.0,329.07 165.5,329.05 166.0,329.12 166.5,329.06 167.0,328.93 167.5,328.81 168.0,328.77 168.5,328.79 169.0,328.70 169.5,328.44 170.0,327.98 170.5,327.00 171.0,324.73 171.5,313.88 172.0,267.82 172.0,262.55 172.2,246.60 172.5,268.02 172.5,273.32 173.0,317.31 173.5,325.38 174.0,327.33 174.5,328.06 175.0,328.43 175.5,328.75 176.0,328.91 176.5,328.93 177.0,329.11 177.5,329.25 178.0,329.26 178.5,329.37 179.0,329.38 179.5,329.32 180.0,329.29 180.5,329.24 181.0,329.37 181.5,329.51 182.0,329.51 182.5,329.56 183.0,329.58 183.5,329.56 184.0,329.45 184.5,329.31 185.0,329.40 185.5,329.48 186.0,329.41 186.5,329.42 187.0,329.52 187.5,329.48 188.0,329.41 188.5,329.52 189.0,329.64 189.5,329.66 190.0,329.75 190.5,329.81 191.0,329.68 191.5,329.53 192.0,329.53 192.5,329.67 193.0,329.78 193.5,329.79 194.0,329.75 194.5,329.73 195.0,329.72 195.5,329.71 196.0,329.66 196.5,329.59 197.0,329.58 197.5,329.64 198.0,329.65 198.5,329.71 199.0,329.82 199.5,329.96 200.0,330.10 200.5,330.01 201.0,329.87 201.5,329.91 202.0,329.90 202.5,329.88 203.0,329.92 203.5,329.75 204.0,329.65 204.5,329.81 205.0,329.94 205.5,329.97 206.0,329.86 206.5,329.84 207.0,329.94 207.5,329.89 208.0,329.94 208.5,330.04 209.0,329.98 209.5,329.92 210.0,329.95 210.5,329.96 211.0,329.91 211.5,329.96 212.0,330.09 212.5,330.12 213.0,329.96 213.5,329.87 214.0,329.94 214.5,329.94 215.0,329.95 215.5,330.00 216.0,330.01 216.5,329.93 217.0,329.80 217.5,329.70 218.0,329.83 218.5,330.00 219.0,329.92 219.5,329.81 220.0,329.85 220.5,329.95 221.0,329.94 221.5,329.89 222.0,329.97 222.5,330.03 223.0,330.00 223.5,330.01 224.0,330.09 224.5,330.06 225.0,329.95 225.5,329.91 226.0,329.96 226.5,330.01 227.0,330.02 227.5,330.06 228.0,330.11 228.5,330.13 229.0,330.08 229.5,329.92 230.0,329.82 230.5,329.94 231.0,330.04 231.5,330.03 232.0,329.99 232.5,329.92 233.0,329.86 233.5,329.91 234.0,330.02 234.5,329.98 235.0,329.83 235.5,329.77 236.0,329.88 236.5,329.99 237.0,329.90 237.5,329.80 238.0,329.86 238.5,329.83 239.0,329.62 239.5,329.32 240.0,328.75 240.5,327.16 241.0,318.94 241.4,302.41 241.5,297.14 241.6,295.16 241.9,302.45 242.0,308.69 242.5,324.70 243.0,328.19 243.5,328.99 244.0,329.41 244.5,329.67 245.0,329.76 245.5,329.76 246.0,329.85 246.5,330.01 247.0,330.06 247.5,330.00 248.0,329.98 248.5,330.04 249.0,330.04 249.5,329.90 250.0,329.87 250.5,329.93 251.0,329.92 251.5,329.94 252.0,330.04 252.5,330.04 253.0,330.01 253.5,330.00 254.0,329.97 254.5,329.97 255.0,329.91 255.5,329.93 256.0,330.05 256.5,330.03 257.0,329.98 257.5,330.03 258.0,330.10 258.5,330.10 259.0,330.12 259.5,330.14 260.0,330.06 260.5,330.01 261.0,330.09 261.5,330.21 262.0,330.28 262.5,330.25 263.0,330.15 263.5,330.13 264.0,330.16 264.5,330.16 265.0,330.20 265.5,330.19 266.0,330.10 266.5,330.09 267.0,330.19 267.5,330.37 268.0,330.41 268.5,330.24 269.0,330.05 269.5,329.97 270.0,330.07 270.5,330.12 271.0,330.10 271.5,330.11 272.0,330.05 272.5,330.08 273.0,330.11 273.5,330.10 274.0,330.22 274.5,330.23 275.0,330.04 275.5,330.02 276.0,330.16 276.5,330.14 277.0,330.05 277.5,330.09 278.0,330.13 278.5,330.17 279.0,330.22 279.5,330.27 280.0,330.33 280.5,330.31 281.0,330.21 281.5,330.17 282.0,330.06 282.5,329.63 283.0,328.57 283.5,326.57 283.7,325.79 283.9,325.32 284.0,325.30 284.2,325.74 284.5,327.15 285.0,329.05 285.5,329.75 286.0,329.93 286.5,330.03 287.0,330.07 287.5,330.12 288.0,330.16 288.5,330.26 289.0,330.32 289.5,330.22 290.0,330.16 290.5,330.19 291.0,330.17 291.5,330.07 292.0,330.05 292.5,330.12 293.0,330.14 293.5,330.05 294.0,329.91 294.5,329.80 295.0,329.70 295.5,329.19 296.0,327.28 296.5,323.14 296.7,321.03 297.0,319.92 297.0,319.92 297.2,321.00 297.5,323.50 298.0,327.39 298.5,329.09 299.0,329.80 299.5,330.08 300.0,330.09 300.5,330.14 301.0,330.23 301.5,330.21 302.0,330.20 302.5,330.30 303.0,330.34 303.5,330.36 304.0,330.33 304.5,330.26 305.0,330.32 305.5,330.35 306.0,330.27 306.5,330.24 307.0,330.21 307.5,330.23 308.0,330.40 308.5,330.45 309.0,330.42 309.5,330.41 310.0,330.33 310.5,330.39 311.0,330.54 311.5,330.43 312.0,330.10 312.5,329.98 313.0,330.21 313.5,330.41 314.0,330.38 314.5,330.38 315.0,330.39 315.5,330.35 316.0,330.41 316.5,330.48 317.0,330.48 317.5,330.42 318.0,330.39 318.5,330.40 319.0,330.44 319.5,330.59 320.0,330.63 320.5,330.36 321.0,330.18 321.5,330.30 322.0,330.46 322.5,330.55 323.0,330.50 323.5,330.36 324.0,330.37 324.5,330.44 325.0,330.42 325.5,330.45 326.0,330.47 326.5,330.49 327.0,330.53 327.5,330.54 328.0,330.47 328.5,330.38 329.0,330.40 329.5,330.44 330.0,330.49 330.5,330.52 331.0,330.42 331.5,330.32 332.0,330.32 332.5,330.40 333.0,330.44 333.5,330.43 334.0,330.49 334.5,330.48 335.0,330.36 335.5,330.31 336.0,330.41 336.5,330.41 337.0,330.35 337.5,330.50 338.0,330.60 338.5,330.52 339.0,330.55 339.5,330.66 340.0,330.55 340.5,330.36 341.0,330.33 341.5,330.33 342.0,330.22 342.5,330.13 343.0,330.18 343.5,330.14 344.0,329.95 344.5,329.48 345.0,328.10 345.5,325.63 345.6,325.05 345.9,324.66 346.0,324.85 346.1,325.19 346.5,327.01 347.0,328.95 347.5,329.81 348.0,330.15 348.5,330.25 349.0,330.31 349.5,330.35 350.0,330.32 350.5,330.26 351.0,330.32 351.5,330.47 352.0,330.48 352.5,330.42 353.0,330.42 353.5,330.40 354.0,330.30 354.5,330.29 355.0,330.36 355.5,330.35 356.0,330.36 356.5,330.42 357.0,330.44 357.5,330.50 358.0,330.63 358.5,330.66 359.0,330.60 359.5,330.49 360.0,330.37 360.5,330.32 361.0,330.30 361.5,330.27 362.0,330.37 362.5,330.58 363.0,330.67 363.5,330.58 364.0,330.47 364.5,330.45 365.0,330.47 365.5,330.51 366.0,330.54 366.5,330.65 367.0,330.76 367.5,330.75 368.0,330.71 368.5,330.58 369.0,330.52 369.5,330.65 370.0,330.65 370.5,330.51 371.0,330.41 371.5,330.36 372.0,330.45 372.5,330.54 373.0,330.49 373.5,330.37 374.0,330.36 374.5,330.48 375.0,330.57 375.5,330.55 376.0,330.44 376.5,330.41 377.0,330.49 377.5,330.39 378.0,330.16 378.5,329.67 379.0,328.89 379.1,328.80 379.4,328.76 379.5,328.88 379.6,329.03 380.0,329.41 380.5,329.83 381.0,330.16 381.5,330.37 382.0,330.36 382.5,330.25 383.0,330.25 383.5,330.41 384.0,330.46 384.5,330.34 385.0,330.31 385.5,330.30 386.0,330.13 386.5,330.18 387.0,330.30 387.5,330.08 388.0,329.68 388.5,328.98 389.0,327.13 389.5,323.24 389.9,319.86 390.0,319.26 390.1,318.95 390.4,319.85 390.5,320.61 391.0,325.09 391.5,328.13 392.0,329.41 392.5,329.94 393.0,330.18 393.5,330.22 394.0,330.23 394.5,330.29 395.0,330.39 395.5,330.48 396.0,330.49 396.5,330.50 397.0,330.47 397.5,330.47 398.0,330.51 398.5,330.48 399.0,330.56 399.5,330.62 400.0,330.52 400.5,330.44 401.0,330.41 401.5,330.40 402.0,330.42 402.5,330.46 403.0,330.52 403.5,330.63 404.0,330.73 404.5,330.70 405.0,330.65 405.5,330.60 406.0,330.54 406.5,330.45 407.0,330.42 407.5,330.60 408.0,330.76 408.5,330.69 409.0,330.65 409.5,330.70 410.0,330.62 410.5,330.50 411.0,330.45 411.5,330.48 412.0,330.64 412.5,330.76 413.0,330.64 413.5,330.51 414.0,330.53 414.5,330.52 415.0,330.49 415.5,330.60 416.0,330.70 416.5,330.71 417.0,330.64 417.5,330.49 418.0,330.50 418.5,330.71 419.0,330.71 419.5,330.56 420.0,330.59 420.5,330.67 421.0,330.69 421.5,330.65 422.0,330.61 422.5,330.64 423.0,330.65 423.5,330.56 424.0,330.36 424.5,330.28 425.0,330.38 425.5,330.47 426.0,330.60 426.5,330.68 427.0,330.63 427.5,330.56 428.0,330.60 428.5,330.60 429.0,330.53 429.5,330.52 430.0,330.47 430.5,330.34 431.0,330.04 431.5,329.22 432.0,327.48 432.5,324.76 432.7,323.75 433.0,323.30 433.0,323.37 433.2,323.84 433.5,325.28 434.0,327.85 434.5,329.51 435.0,330.22 435.5,330.43 436.0,330.55 436.5,330.66 437.0,330.71 437.5,330.58 438.0,330.51 438.5,330.64 439.0,330.61 439.5,330.49 440.0,330.46 440.5,330.46 441.0,330.50 441.5,330.60 442.0,330.73 442.5,330.68 443.0,330.47 443.5,330.43 444.0,330.46 444.5,330.46 445.0,330.55 445.5,330.60 446.0,330.55 446.5,330.58 447.0,330.71 447.5,330.83 448.0,330.81 448.5,330.73 449.0,330.67 449.5,330.63 450.0,330.60 450.5,330.60 451.0,330.60 451.5,330.52 452.0,330.50 452.5,330.61 453.0,330.61 453.5,330.51 454.0,330.53 454.5,330.62 455.0,330.61 455.5,330.56 456.0,330.58 456.5,330.65 457.0,330.73 457.5,330.65 458.0,330.43 458.5,330.38 459.0,330.56 459.5,330.70 460.0,330.68 460.5,330.64 461.0,330.51 461.5,330.45 462.0,330.53 462.5,330.53 463.0,330.35 463.5,330.07 464.0,329.84 464.2,329.82 464.5,329.81 464.5,329.76 464.7,329.74 465.0,329.92 465.5,330.26 466.0,330.38 466.5,330.37 467.0,330.36 467.5,330.47 468.0,330.55 468.5,330.44 469.0,330.45 469.5,330.63 470.0,330.68 470.5,330.63 471.0,330.65 471.5,330.70 472.0,330.68 472.5,330.68 473.0,330.71 473.5,330.71 474.0,330.65 474.5,330.58 475.0,330.55 475.5,330.44 476.0,330.41 476.5,330.51 477.0,330.53 477.5,330.52 478.0,330.56 478.5,330.64 479.0,330.58 479.5,330.47 480.0,330.56 480.5,330.60 481.0,330.55 481.5,330.64 482.0,330.77 482.5,330.70 483.0,330.56 483.5,330.52 484.0,330.51 484.5,330.32 485.0,330.21 485.5,330.32 486.0,330.50 486.5,330.64 487.0,330.58 487.5,330.42 488.0,330.42 488.5,330.49 489.0,330.46 489.5,330.45 490.0,330.50 490.5,330.54 491.0,330.54 491.5,330.59 492.0,330.70 492.5,330.64 493.0,330.56 493.5,330.67 494.0,330.68 494.5,330.59 495.0,330.52 495.5,330.52 496.0,330.55 496.5,330.53" fill="none" stroke="#555555" stroke-width="1" stroke-linejoin="round" clip-path="url(#cb2)"/>
<g fill="#000"><path d="M5,10 C3.8,8.5 0.7,5.7 0.15,3.6 C-0.2,1.6 1.1,0 2.6,0 C3.7,0 4.6,0.8 5,1.9 C5.4,0.8 6.3,0 7.4,0 C8.9,0 10.2,1.6 9.85,3.6 C9.3,5.7 6.2,8.5 5,10 Z" transform="translate(146.40,58.10) scale(0.900,0.910)"/><path d="M5,0 C5.8,1.6 7.5,3.2 8.8,4.6 C9.7,5.6 10,6.2 10,7.1 C10,8.4 9,9.3 7.8,9.3 C6.9,9.3 6.0,8.8 5.5,8.1 C5.6,9.0 5.9,9.6 6.3,10 L3.7,10 C4.1,9.6 4.4,9.0 4.5,8.1 C4.0,8.8 3.1,9.3 2.2,9.3 C1,9.3 0,8.4 0,7.1 C0,6.2 0.3,5.6 1.2,4.6 C2.5,3.2 4.2,1.6 5,0 Z" transform="translate(146.70,70.20) scale(0.900,0.970)"/><path d="M5,10 C3.8,8.5 0.7,5.7 0.15,3.6 C-0.2,1.6 1.1,0 2.6,0 C3.7,0 4.6,0.8 5,1.9 C5.4,0.8 6.3,0 7.4,0 C8.9,0 10.2,1.6 9.85,3.6 C9.3,5.7 6.2,8.5 5,10 Z" transform="translate(161.70,14.80) scale(0.900,0.910)"/><path d="M5,0 C5.8,1.6 7.5,3.2 8.8,4.6 C9.7,5.6 10,6.2 10,7.1 C10,8.4 9,9.3 7.8,9.3 C6.9,9.3 6.0,8.8 5.5,8.1 C5.6,9.0 5.9,9.6 6.3,10 L3.7,10 C4.1,9.6 4.4,9.0 4.5,8.1 C4.0,8.8 3.1,9.3 2.2,9.3 C1,9.3 0,8.4 0,7.1 C0,6.2 0.3,5.6 1.2,4.6 C2.5,3.2 4.2,1.6 5,0 Z" transform="translate(173.70,14.80) scale(0.900,0.960)"/><path d="M5,0 L10,5 L5,10 L0,5 Z" transform="translate(211.60,66.95) scale(0.800,0.980)"/><path d="M5,10 C3.8,8.5 0.7,5.7 0.15,3.6 C-0.2,1.6 1.1,0 2.6,0 C3.7,0 4.6,0.8 5,1.9 C5.4,0.8 6.3,0 7.4,0 C8.9,0 10.2,1.6 9.85,3.6 C9.3,5.7 6.2,8.5 5,10 Z" transform="translate(210.95,82.50) scale(0.900,0.980)"/><ellipse cx="242.30" cy="26.45" rx="2.3" ry="2.15" fill="none" stroke="#000" stroke-width="1"/><path d="M5,10 C3.8,8.5 0.7,5.7 0.15,3.6 C-0.2,1.6 1.1,0 2.6,0 C3.7,0 4.6,0.8 5,1.9 C5.4,0.8 6.3,0 7.4,0 C8.9,0 10.2,1.6 9.85,3.6 C9.3,5.7 6.2,8.5 5,10 Z" transform="translate(237.30,36.20) scale(0.900,0.910)"/><path d="M5,0 C5.8,1.6 7.5,3.2 8.8,4.6 C9.7,5.6 10,6.2 10,7.1 C10,8.4 9,9.3 7.8,9.3 C6.9,9.3 6.0,8.8 5.5,8.1 C5.6,9.0 5.9,9.6 6.3,10 L3.7,10 C4.1,9.6 4.4,9.0 4.5,8.1 C4.0,8.8 3.1,9.3 2.2,9.3 C1,9.3 0,8.4 0,7.1 C0,6.2 0.3,5.6 1.2,4.6 C2.5,3.2 4.2,1.6 5,0 Z" transform="translate(237.30,51.00) scale(0.900,0.950)"/><ellipse cx="283.20" cy="57.65" rx="2.3" ry="2.15" fill="none" stroke="#000" stroke-width="1"/><path d="M5,0 L10,5 L5,10 L0,5 Z" transform="translate(280.20,65.10) scale(0.800,0.980)"/><path d="M5,0 C5.8,1.6 7.5,3.2 8.8,4.6 C9.7,5.6 10,6.2 10,7.1 C10,8.4 9,9.3 7.8,9.3 C6.9,9.3 6.0,8.8 5.5,8.1 C5.6,9.0 5.9,9.6 6.3,10 L3.7,10 C4.1,9.6 4.4,9.0 4.5,8.1 C4.0,8.8 3.1,9.3 2.2,9.3 C1,9.3 0,8.4 0,7.1 C0,6.2 0.3,5.6 1.2,4.6 C2.5,3.2 4.2,1.6 5,0 Z" transform="translate(279.70,78.60) scale(0.900,1.010)"/><path d="M5,0 L10,5 L5,10 L0,5 Z" transform="translate(292.80,60.35) scale(0.800,0.980)"/><path d="M5,0 C5.8,1.6 7.5,3.2 8.8,4.6 C9.7,5.6 10,6.2 10,7.1 C10,8.4 9,9.3 7.8,9.3 C6.9,9.3 6.0,8.8 5.5,8.1 C5.6,9.0 5.9,9.6 6.3,10 L3.7,10 C4.1,9.6 4.4,9.0 4.5,8.1 C4.0,8.8 3.1,9.3 2.2,9.3 C1,9.3 0,8.4 0,7.1 C0,6.2 0.3,5.6 1.2,4.6 C2.5,3.2 4.2,1.6 5,0 Z" transform="translate(292.50,74.20) scale(0.900,1.050)"/><path d="M5,10 C3.8,8.5 0.7,5.7 0.15,3.6 C-0.2,1.6 1.1,0 2.6,0 C3.7,0 4.6,0.8 5,1.9 C5.4,0.8 6.3,0 7.4,0 C8.9,0 10.2,1.6 9.85,3.6 C9.3,5.7 6.2,8.5 5,10 Z" transform="translate(340.70,64.90) scale(0.900,0.930)"/><path d="M5,0 C5.8,1.6 7.5,3.2 8.8,4.6 C9.7,5.6 10,6.2 10,7.1 C10,8.4 9,9.3 7.8,9.3 C6.9,9.3 6.0,8.8 5.5,8.1 C5.6,9.0 5.9,9.6 6.3,10 L3.7,10 C4.1,9.6 4.4,9.0 4.5,8.1 C4.0,8.8 3.1,9.3 2.2,9.3 C1,9.3 0,8.4 0,7.1 C0,6.2 0.3,5.6 1.2,4.6 C2.5,3.2 4.2,1.6 5,0 Z" transform="translate(340.70,79.70) scale(0.900,0.970)"/><ellipse cx="390.10" cy="50.15" rx="2.3" ry="2.15" fill="none" stroke="#000" stroke-width="1"/><path d="M5,10 C3.8,8.5 0.7,5.7 0.15,3.6 C-0.2,1.6 1.1,0 2.6,0 C3.7,0 4.6,0.8 5,1.9 C5.4,0.8 6.3,0 7.4,0 C8.9,0 10.2,1.6 9.85,3.6 C9.3,5.7 6.2,8.5 5,10 Z" transform="translate(385.60,59.40) scale(0.900,0.970)"/><path d="M5,0 C5.8,1.6 7.5,3.2 8.8,4.6 C9.7,5.6 10,6.2 10,7.1 C10,8.4 9,9.3 7.8,9.3 C6.9,9.3 6.0,8.8 5.5,8.1 C5.6,9.0 5.9,9.6 6.3,10 L3.7,10 C4.1,9.6 4.4,9.0 4.5,8.1 C4.0,8.8 3.1,9.3 2.2,9.3 C1,9.3 0,8.4 0,7.1 C0,6.2 0.3,5.6 1.2,4.6 C2.5,3.2 4.2,1.6 5,0 Z" transform="translate(385.60,73.60) scale(0.900,1.010)"/><path d="M5,10 C3.8,8.5 0.7,5.7 0.15,3.6 C-0.2,1.6 1.1,0 2.6,0 C3.7,0 4.6,0.8 5,1.9 C5.4,0.8 6.3,0 7.4,0 C8.9,0 10.2,1.6 9.85,3.6 C9.3,5.7 6.2,8.5 5,10 Z" transform="translate(428.90,64.00) scale(0.900,0.960)"/><path d="M5,0 C5.8,1.6 7.5,3.2 8.8,4.6 C9.7,5.6 10,6.2 10,7.1 C10,8.4 9,9.3 7.8,9.3 C6.9,9.3 6.0,8.8 5.5,8.1 C5.6,9.0 5.9,9.6 6.3,10 L3.7,10 C4.1,9.6 4.4,9.0 4.5,8.1 C4.0,8.8 3.1,9.3 2.2,9.3 C1,9.3 0,8.4 0,7.1 C0,6.2 0.3,5.6 1.2,4.6 C2.5,3.2 4.2,1.6 5,0 Z" transform="translate(428.90,78.20) scale(0.900,1.020)"/><path d="M5,10 C3.8,8.5 0.7,5.7 0.15,3.6 C-0.2,1.6 1.1,0 2.6,0 C3.7,0 4.6,0.8 5,1.9 C5.4,0.8 6.3,0 7.4,0 C8.9,0 10.2,1.6 9.85,3.6 C9.3,5.7 6.2,8.5 5,10 Z" transform="translate(145.40,173.40) scale(0.900,0.910)"/><path d="M5,0 C5.8,1.6 7.5,3.2 8.8,4.6 C9.7,5.6 10,6.2 10,7.1 C10,8.4 9,9.3 7.8,9.3 C6.9,9.3 6.0,8.8 5.5,8.1 C5.6,9.0 5.9,9.6 6.3,10 L3.7,10 C4.1,9.6 4.4,9.0 4.5,8.1 C4.0,8.8 3.1,9.3 2.2,9.3 C1,9.3 0,8.4 0,7.1 C0,6.2 0.3,5.6 1.2,4.6 C2.5,3.2 4.2,1.6 5,0 Z" transform="translate(145.40,185.50) scale(0.900,1.010)"/><path d="M5,10 C3.8,8.5 0.7,5.7 0.15,3.6 C-0.2,1.6 1.1,0 2.6,0 C3.7,0 4.6,0.8 5,1.9 C5.4,0.8 6.3,0 7.4,0 C8.9,0 10.2,1.6 9.85,3.6 C9.3,5.7 6.2,8.5 5,10 Z" transform="translate(167.00,111.30) scale(0.900,0.970)"/><path d="M5,0 C5.8,1.6 7.5,3.2 8.8,4.6 C9.7,5.6 10,6.2 10,7.1 C10,8.4 9,9.3 7.8,9.3 C6.9,9.3 6.0,8.8 5.5,8.1 C5.6,9.0 5.9,9.6 6.3,10 L3.7,10 C4.1,9.6 4.4,9.0 4.5,8.1 C4.0,8.8 3.1,9.3 2.2,9.3 C1,9.3 0,8.4 0,7.1 C0,6.2 0.3,5.6 1.2,4.6 C2.5,3.2 4.2,1.6 5,0 Z" transform="translate(167.00,124.20) scale(0.900,0.960)"/><path d="M5,0 L10,5 L5,10 L0,5 Z" transform="translate(213.30,160.90) scale(0.800,0.980)"/><path d="M212.00,178.90 L223.00,178.90 L217.50,189.60 Z M214.59,179.65 L218.05,186.39 L221.51,179.65 Z" fill-rule="evenodd"/><path d="M5,10 C3.8,8.5 0.7,5.7 0.15,3.6 C-0.2,1.6 1.1,0 2.6,0 C3.7,0 4.6,0.8 5,1.9 C5.4,0.8 6.3,0 7.4,0 C8.9,0 10.2,1.6 9.85,3.6 C9.3,5.7 6.2,8.5 5,10 Z" transform="translate(212.80,194.70) scale(0.900,1.010)"/><ellipse cx="241.40" cy="129.35" rx="2.3" ry="2.15" fill="none" stroke="#000" stroke-width="1"/><path d="M5,10 C3.8,8.5 0.7,5.7 0.15,3.6 C-0.2,1.6 1.1,0 2.6,0 C3.7,0 4.6,0.8 5,1.9 C5.4,0.8 6.3,0 7.4,0 C8.9,0 10.2,1.6 9.85,3.6 C9.3,5.7 6.2,8.5 5,10 Z" transform="translate(236.40,139.50) scale(0.900,0.960)"/><path d="M235.50,154.20 L246.50,154.20 L241.00,166.10 Z M238.05,154.95 L241.55,162.53 L245.05,154.95 Z" fill-rule="evenodd"/><path d="M5,0 C5.8,1.6 7.5,3.2 8.8,4.6 C9.7,5.6 10,6.2 10,7.1 C10,8.4 9,9.3 7.8,9.3 C6.9,9.3 6.0,8.8 5.5,8.1 C5.6,9.0 5.9,9.6 6.3,10 L3.7,10 C4.1,9.6 4.4,9.0 4.5,8.1 C4.0,8.8 3.1,9.3 2.2,9.3 C1,9.3 0,8.4 0,7.1 C0,6.2 0.3,5.6 1.2,4.6 C2.5,3.2 4.2,1.6 5,0 Z" transform="translate(236.40,170.60) scale(0.900,1.020)"/><path d="M256.70,192.40 L267.70,192.40 L262.20,204.00 Z M259.26,193.15 L262.75,200.52 L266.24,193.15 Z" fill-rule="evenodd"/><ellipse cx="283.20" cy="171.20" rx="2.3" ry="2.15" fill="none" stroke="#000" stroke-width="1"/><path d="M5,0 L10,5 L5,10 L0,5 Z" transform="translate(279.70,179.55) scale(0.800,0.980)"/><path d="M5,0 C5.8,1.6 7.5,3.2 8.8,4.6 C9.7,5.6 10,6.2 10,7.1 C10,8.4 9,9.3 7.8,9.3 C6.9,9.3 6.0,8.8 5.5,8.1 C5.6,9.0 5.9,9.6 6.3,10 L3.7,10 C4.1,9.6 4.4,9.0 4.5,8.1 C4.0,8.8 3.1,9.3 2.2,9.3 C1,9.3 0,8.4 0,7.1 C0,6.2 0.3,5.6 1.2,4.6 C2.5,3.2 4.2,1.6 5,0 Z" transform="translate(279.50,193.40) scale(0.900,0.960)"/><path d="M5,0 L10,5 L5,10 L0,5 Z" transform="translate(292.80,174.15) scale(0.800,0.980)"/><path d="M5,0 C5.8,1.6 7.5,3.2 8.8,4.6 C9.7,5.6 10,6.2 10,7.1 C10,8.4 9,9.3 7.8,9.3 C6.9,9.3 6.0,8.8 5.5,8.1 C5.6,9.0 5.9,9.6 6.3,10 L3.7,10 C4.1,9.6 4.4,9.0 4.5,8.1 C4.0,8.8 3.1,9.3 2.2,9.3 C1,9.3 0,8.4 0,7.1 C0,6.2 0.3,5.6 1.2,4.6 C2.5,3.2 4.2,1.6 5,0 Z" transform="translate(292.30,188.00) scale(0.900,1.020)"/><path d="M5,10 C3.8,8.5 0.7,5.7 0.15,3.6 C-0.2,1.6 1.1,0 2.6,0 C3.7,0 4.6,0.8 5,1.9 C5.4,0.8 6.3,0 7.4,0 C8.9,0 10.2,1.6 9.85,3.6 C9.3,5.7 6.2,8.5 5,10 Z" transform="translate(340.60,178.50) scale(0.900,0.950)"/><path d="M5,0 C5.8,1.6 7.5,3.2 8.8,4.6 C9.7,5.6 10,6.2 10,7.1 C10,8.4 9,9.3 7.8,9.3 C6.9,9.3 6.0,8.8 5.5,8.1 C5.6,9.0 5.9,9.6 6.3,10 L3.7,10 C4.1,9.6 4.4,9.0 4.5,8.1 C4.0,8.8 3.1,9.3 2.2,9.3 C1,9.3 0,8.4 0,7.1 C0,6.2 0.3,5.6 1.2,4.6 C2.5,3.2 4.2,1.6 5,0 Z" transform="translate(340.60,193.40) scale(0.900,0.960)"/><ellipse cx="390.10" cy="163.75" rx="2.3" ry="2.15" fill="none" stroke="#000" stroke-width="1"/><path d="M5,10 C3.8,8.5 0.7,5.7 0.15,3.6 C-0.2,1.6 1.1,0 2.6,0 C3.7,0 4.6,0.8 5,1.9 C5.4,0.8 6.3,0 7.4,0 C8.9,0 10.2,1.6 9.85,3.6 C9.3,5.7 6.2,8.5 5,10 Z" transform="translate(385.50,173.60) scale(0.900,0.970)"/><path d="M5,0 C5.8,1.6 7.5,3.2 8.8,4.6 C9.7,5.6 10,6.2 10,7.1 C10,8.4 9,9.3 7.8,9.3 C6.9,9.3 6.0,8.8 5.5,8.1 C5.6,9.0 5.9,9.6 6.3,10 L3.7,10 C4.1,9.6 4.4,9.0 4.5,8.1 C4.0,8.8 3.1,9.3 2.2,9.3 C1,9.3 0,8.4 0,7.1 C0,6.2 0.3,5.6 1.2,4.6 C2.5,3.2 4.2,1.6 5,0 Z" transform="translate(385.50,187.30) scale(0.900,1.040)"/><path d="M5,10 C3.8,8.5 0.7,5.7 0.15,3.6 C-0.2,1.6 1.1,0 2.6,0 C3.7,0 4.6,0.8 5,1.9 C5.4,0.8 6.3,0 7.4,0 C8.9,0 10.2,1.6 9.85,3.6 C9.3,5.7 6.2,8.5 5,10 Z" transform="translate(428.90,177.70) scale(0.900,0.990)"/><path d="M5,0 C5.8,1.6 7.5,3.2 8.8,4.6 C9.7,5.6 10,6.2 10,7.1 C10,8.4 9,9.3 7.8,9.3 C6.9,9.3 6.0,8.8 5.5,8.1 C5.6,9.0 5.9,9.6 6.3,10 L3.7,10 C4.1,9.6 4.4,9.0 4.5,8.1 C4.0,8.8 3.1,9.3 2.2,9.3 C1,9.3 0,8.4 0,7.1 C0,6.2 0.3,5.6 1.2,4.6 C2.5,3.2 4.2,1.6 5,0 Z" transform="translate(428.90,192.20) scale(0.900,0.980)"/><path d="M5,10 C3.8,8.5 0.7,5.7 0.15,3.6 C-0.2,1.6 1.1,0 2.6,0 C3.7,0 4.6,0.8 5,1.9 C5.4,0.8 6.3,0 7.4,0 C8.9,0 10.2,1.6 9.85,3.6 C9.3,5.7 6.2,8.5 5,10 Z" transform="translate(145.00,291.60) scale(0.900,0.980)"/><path d="M5,0 C5.8,1.6 7.5,3.2 8.8,4.6 C9.7,5.6 10,6.2 10,7.1 C10,8.4 9,9.3 7.8,9.3 C6.9,9.3 6.0,8.8 5.5,8.1 C5.6,9.0 5.9,9.6 6.3,10 L3.7,10 C4.1,9.6 4.4,9.0 4.5,8.1 C4.0,8.8 3.1,9.3 2.2,9.3 C1,9.3 0,8.4 0,7.1 C0,6.2 0.3,5.6 1.2,4.6 C2.5,3.2 4.2,1.6 5,0 Z" transform="translate(145.00,305.40) scale(0.900,1.050)"/><path d="M5,10 C3.8,8.5 0.7,5.7 0.15,3.6 C-0.2,1.6 1.1,0 2.6,0 C3.7,0 4.6,0.8 5,1.9 C5.4,0.8 6.3,0 7.4,0 C8.9,0 10.2,1.6 9.85,3.6 C9.3,5.7 6.2,8.5 5,10 Z" transform="translate(167.40,221.60) scale(0.900,0.960)"/><path d="M5,0 C5.8,1.6 7.5,3.2 8.8,4.6 C9.7,5.6 10,6.2 10,7.1 C10,8.4 9,9.3 7.8,9.3 C6.9,9.3 6.0,8.8 5.5,8.1 C5.6,9.0 5.9,9.6 6.3,10 L3.7,10 C4.1,9.6 4.4,9.0 4.5,8.1 C4.0,8.8 3.1,9.3 2.2,9.3 C1,9.3 0,8.4 0,7.1 C0,6.2 0.3,5.6 1.2,4.6 C2.5,3.2 4.2,1.6 5,0 Z" transform="translate(167.60,233.70) scale(0.900,1.020)"/><path d="M5,0 L10,5 L5,10 L0,5 Z" transform="translate(211.80,298.85) scale(0.800,0.980)"/><path d="M5,10 C3.8,8.5 0.7,5.7 0.15,3.6 C-0.2,1.6 1.1,0 2.6,0 C3.7,0 4.6,0.8 5,1.9 C5.4,0.8 6.3,0 7.4,0 C8.9,0 10.2,1.6 9.85,3.6 C9.3,5.7 6.2,8.5 5,10 Z" transform="translate(211.10,314.60) scale(0.900,1.050)"/><ellipse cx="241.50" cy="262.65" rx="2.3" ry="2.15" fill="none" stroke="#000" stroke-width="1"/><path d="M5,10 C3.8,8.5 0.7,5.7 0.15,3.6 C-0.2,1.6 1.1,0 2.6,0 C3.7,0 4.6,0.8 5,1.9 C5.4,0.8 6.3,0 7.4,0 C8.9,0 10.2,1.6 9.85,3.6 C9.3,5.7 6.2,8.5 5,10 Z" transform="translate(237.10,270.90) scale(0.900,0.980)"/><path d="M5,0 C5.8,1.6 7.5,3.2 8.8,4.6 C9.7,5.6 10,6.2 10,7.1 C10,8.4 9,9.3 7.8,9.3 C6.9,9.3 6.0,8.8 5.5,8.1 C5.6,9.0 5.9,9.6 6.3,10 L3.7,10 C4.1,9.6 4.4,9.0 4.5,8.1 C4.0,8.8 3.1,9.3 2.2,9.3 C1,9.3 0,8.4 0,7.1 C0,6.2 0.3,5.6 1.2,4.6 C2.5,3.2 4.2,1.6 5,0 Z" transform="translate(237.10,285.00) scale(0.900,1.050)"/><ellipse cx="283.90" cy="290.40" rx="2.3" ry="2.15" fill="none" stroke="#000" stroke-width="1"/><path d="M5,0 L10,5 L5,10 L0,5 Z" transform="translate(280.00,298.85) scale(0.800,0.980)"/><path d="M5,0 C5.8,1.6 7.5,3.2 8.8,4.6 C9.7,5.6 10,6.2 10,7.1 C10,8.4 9,9.3 7.8,9.3 C6.9,9.3 6.0,8.8 5.5,8.1 C5.6,9.0 5.9,9.6 6.3,10 L3.7,10 C4.1,9.6 4.4,9.0 4.5,8.1 C4.0,8.8 3.1,9.3 2.2,9.3 C1,9.3 0,8.4 0,7.1 C0,6.2 0.3,5.6 1.2,4.6 C2.5,3.2 4.2,1.6 5,0 Z" transform="translate(279.50,312.50) scale(0.900,0.960)"/><path d="M5,0 L10,5 L5,10 L0,5 Z" transform="translate(292.80,293.20) scale(0.800,0.980)"/><path d="M5,0 C5.8,1.6 7.5,3.2 8.8,4.6 C9.7,5.6 10,6.2 10,7.1 C10,8.4 9,9.3 7.8,9.3 C6.9,9.3 6.0,8.8 5.5,8.1 C5.6,9.0 5.9,9.6 6.3,10 L3.7,10 C4.1,9.6 4.4,9.0 4.5,8.1 C4.0,8.8 3.1,9.3 2.2,9.3 C1,9.3 0,8.4 0,7.1 C0,6.2 0.3,5.6 1.2,4.6 C2.5,3.2 4.2,1.6 5,0 Z" transform="translate(292.10,307.70) scale(0.900,1.010)"/><path d="M5,10 C3.8,8.5 0.7,5.7 0.15,3.6 C-0.2,1.6 1.1,0 2.6,0 C3.7,0 4.6,0.8 5,1.9 C5.4,0.8 6.3,0 7.4,0 C8.9,0 10.2,1.6 9.85,3.6 C9.3,5.7 6.2,8.5 5,10 Z" transform="translate(340.50,298.00) scale(0.900,1.020)"/><path d="M5,0 C5.8,1.6 7.5,3.2 8.8,4.6 C9.7,5.6 10,6.2 10,7.1 C10,8.4 9,9.3 7.8,9.3 C6.9,9.3 6.0,8.8 5.5,8.1 C5.6,9.0 5.9,9.6 6.3,10 L3.7,10 C4.1,9.6 4.4,9.0 4.5,8.1 C4.0,8.8 3.1,9.3 2.2,9.3 C1,9.3 0,8.4 0,7.1 C0,6.2 0.3,5.6 1.2,4.6 C2.5,3.2 4.2,1.6 5,0 Z" transform="translate(340.50,313.00) scale(0.900,0.960)"/><ellipse cx="389.40" cy="285.85" rx="2.3" ry="2.15" fill="none" stroke="#000" stroke-width="1"/><path d="M5,10 C3.8,8.5 0.7,5.7 0.15,3.6 C-0.2,1.6 1.1,0 2.6,0 C3.7,0 4.6,0.8 5,1.9 C5.4,0.8 6.3,0 7.4,0 C8.9,0 10.2,1.6 9.85,3.6 C9.3,5.7 6.2,8.5 5,10 Z" transform="translate(385.00,293.30) scale(0.900,1.010)"/><path d="M5,0 C5.8,1.6 7.5,3.2 8.8,4.6 C9.7,5.6 10,6.2 10,7.1 C10,8.4 9,9.3 7.8,9.3 C6.9,9.3 6.0,8.8 5.5,8.1 C5.6,9.0 5.9,9.6 6.3,10 L3.7,10 C4.1,9.6 4.4,9.0 4.5,8.1 C4.0,8.8 3.1,9.3 2.2,9.3 C1,9.3 0,8.4 0,7.1 C0,6.2 0.3,5.6 1.2,4.6 C2.5,3.2 4.2,1.6 5,0 Z" transform="translate(385.00,306.50) scale(0.900,1.010)"/><path d="M5,10 C3.8,8.5 0.7,5.7 0.15,3.6 C-0.2,1.6 1.1,0 2.6,0 C3.7,0 4.6,0.8 5,1.9 C5.4,0.8 6.3,0 7.4,0 C8.9,0 10.2,1.6 9.85,3.6 C9.3,5.7 6.2,8.5 5,10 Z" transform="translate(428.90,297.60) scale(0.900,1.010)"/><path d="M5,0 C5.8,1.6 7.5,3.2 8.8,4.6 C9.7,5.6 10,6.2 10,7.1 C10,8.4 9,9.3 7.8,9.3 C6.9,9.3 6.0,8.8 5.5,8.1 C5.6,9.0 5.9,9.6 6.3,10 L3.7,10 C4.1,9.6 4.4,9.0 4.5,8.1 C4.0,8.8 3.1,9.3 2.2,9.3 C1,9.3 0,8.4 0,7.1 C0,6.2 0.3,5.6 1.2,4.6 C2.5,3.2 4.2,1.6 5,0 Z" transform="translate(428.90,312.00) scale(0.900,0.960)"/><path d="M5,0 C5.8,1.6 7.5,3.2 8.8,4.6 C9.7,5.6 10,6.2 10,7.1 C10,8.4 9,9.3 7.8,9.3 C6.9,9.3 6.0,8.8 5.5,8.1 C5.6,9.0 5.9,9.6 6.3,10 L3.7,10 C4.1,9.6 4.4,9.0 4.5,8.1 C4.0,8.8 3.1,9.3 2.2,9.3 C1,9.3 0,8.4 0,7.1 C0,6.2 0.3,5.6 1.2,4.6 C2.5,3.2 4.2,1.6 5,0 Z" transform="translate(513.90,17.10) scale(0.900,0.960)"/><path d="M512.30,38.50 L523.30,38.50 L517.80,50.90 Z M514.83,39.25 L518.35,47.18 L521.87,39.25 Z" fill-rule="evenodd"/><path d="M5,10 C3.8,8.5 0.7,5.7 0.15,3.6 C-0.2,1.6 1.1,0 2.6,0 C3.7,0 4.6,0.8 5,1.9 C5.4,0.8 6.3,0 7.4,0 C8.9,0 10.2,1.6 9.85,3.6 C9.3,5.7 6.2,8.5 5,10 Z" transform="translate(514.00,68.60) scale(0.900,0.960)"/><path d="M5,0 L10,5 L5,10 L0,5 Z" transform="translate(514.40,96.10) scale(0.800,0.980)"/></g>
<rect x="38.3" y="0.5" width="458.2" height="338.4" fill="none" stroke="#111" stroke-width="1.75"/>
<line x1="65.42" y1="331.90" x2="65.42" y2="338.9" stroke="#111" stroke-width="1.6"/><line x1="92.35" y1="335.10" x2="92.35" y2="338.9" stroke="#111" stroke-width="1.6"/><line x1="119.27" y1="331.90" x2="119.27" y2="338.9" stroke="#111" stroke-width="1.6"/><line x1="146.20" y1="335.10" x2="146.20" y2="338.9" stroke="#111" stroke-width="1.6"/><line x1="173.12" y1="331.90" x2="173.12" y2="338.9" stroke="#111" stroke-width="1.6"/><line x1="200.05" y1="335.10" x2="200.05" y2="338.9" stroke="#111" stroke-width="1.6"/><line x1="226.97" y1="331.90" x2="226.97" y2="338.9" stroke="#111" stroke-width="1.6"/><line x1="253.90" y1="335.10" x2="253.90" y2="338.9" stroke="#111" stroke-width="1.6"/><line x1="280.82" y1="331.90" x2="280.82" y2="338.9" stroke="#111" stroke-width="1.6"/><line x1="307.75" y1="335.10" x2="307.75" y2="338.9" stroke="#111" stroke-width="1.6"/><line x1="334.68" y1="331.90" x2="334.68" y2="338.9" stroke="#111" stroke-width="1.6"/><line x1="361.60" y1="335.10" x2="361.60" y2="338.9" stroke="#111" stroke-width="1.6"/><line x1="388.52" y1="331.90" x2="388.52" y2="338.9" stroke="#111" stroke-width="1.6"/><line x1="415.45" y1="335.10" x2="415.45" y2="338.9" stroke="#111" stroke-width="1.6"/><line x1="442.38" y1="331.90" x2="442.38" y2="338.9" stroke="#111" stroke-width="1.6"/><line x1="469.30" y1="335.10" x2="469.30" y2="338.9" stroke="#111" stroke-width="1.6"/>
<text x="65.42" y="357.4" text-anchor="middle" font-size="14.67">10</text><text x="119.27" y="357.4" text-anchor="middle" font-size="14.67">20</text><text x="173.12" y="357.4" text-anchor="middle" font-size="14.67">30</text><text x="226.97" y="357.4" text-anchor="middle" font-size="14.67">40</text><text x="280.82" y="357.4" text-anchor="middle" font-size="14.67">50</text><text x="334.68" y="357.4" text-anchor="middle" font-size="14.67">60</text><text x="388.52" y="357.4" text-anchor="middle" font-size="14.67">70</text><text x="442.38" y="357.4" text-anchor="middle" font-size="14.67">80</text><text x="496.22" y="357.4" text-anchor="middle" font-size="14.67">90</text>
<text x="45.0" y="77.2" font-size="22.6">1:3</text>
<text x="45.0" y="196.7" font-size="22.6">1:2</text>
<text x="45.0" y="308.6" font-size="22.6">1:1</text>
<text x="218.8" y="390" font-size="22.67">2 Theta (</text><text x="306.9" y="390" font-size="22.67">)</text><ellipse cx="303.5" cy="377.9" rx="2.95" ry="2.85" fill="none" stroke="#111" stroke-width="1.05"/>
<text transform="translate(16.3,232.7) rotate(-90)" font-size="22.67">intensity (a.u)</text>
<g font-size="17.5">
<text x="529.3" y="26.6">NdAs</text>
<text x="592.3" y="26.6">(PDF#: 01-074-0623)</text>
<text x="529.1" y="49.8">Fe<tspan font-size="12.8" dy="5.6">12</tspan><tspan dy="-5.6">As</tspan><tspan font-size="12.8" dy="5.6">5</tspan></text>
<text x="592.3" y="50.1">(PDF#: 01-077-0104)</text>
<text x="529.6" y="78">Fe<tspan font-size="12.8" dy="4.7">17</tspan><tspan dy="-4.7">Nd</tspan><tspan font-size="12.8" dy="4.7">2</tspan></text>
<text x="595.3" y="78">(PDF#: 00-048-1751)</text>
<text x="529.8" y="106">Fe<tspan font-size="12.8" dy="4.6">2</tspan><tspan dy="-4.6">As</tspan></text>
<text x="594.7" y="106">(PDF#: 00-009-0095)</text>
<text x="527.6" y="133.6">α-Fe</text>
<text x="595.4" y="133.6">(PDF#: 03-06504150)</text>
<circle cx="519.4" cy="124.8" r="1.9" fill="none" stroke="#111" stroke-width="1"/>
</g>
</svg>
</body></html>
